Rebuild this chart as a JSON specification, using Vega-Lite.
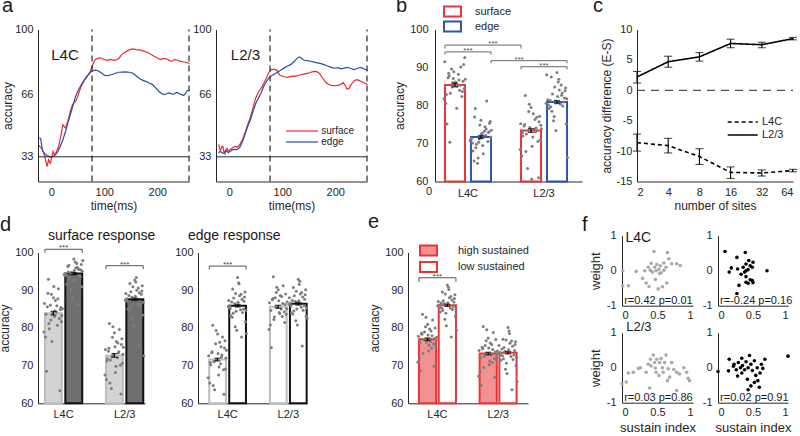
{
"$schema": "https://vega.github.io/schema/vega-lite/v6.json",
"autosize": {"type": "none"},
"padding": {"left": 38, "top": 29.5, "right": 762, "bottom": 406.5},
"background": "white",
"columns": 8,
"align": "each",
"bounds": "flush",
"spacing": {"row": 26.6, "column": 0},
"resolve": {"scale": {"color": "independent", "stroke": "independent", "fill": "independent", "strokeDash": "independent", "xOffset": "independent"}},
"config": {
  "view": {"stroke": null},
  "font": "Liberation Sans",
  "axis": {"grid": false, "ticks": false, "tickCount": 20, "labelOverlap": false, "labelBound": false, "domainColor": "#262626", "domainWidth": 1, "labelColor": "#262626", "titleColor": "#262626", "labelFontSize": 11, "titleFontSize": 12, "titleFontWeight": "normal", "labelPadding": 5, "titlePadding": 3, "labelFont": "Liberation Sans", "titleFont": "Liberation Sans"},
  "legend": {"labelFont": "Liberation Sans", "labelColor": "#262626", "padding": 0},
  "title": {"anchor": "start", "frame": "group", "fontSize": 20, "fontWeight": "normal", "baseline": "alphabetic", "font": "Liberation Sans", "color": "#1a1a1a"},
  "text": {"font": "Liberation Sans", "color": "#1a1a1a"}
},
"datasets": {
"tr": [
{"p":"L4C","c":"surface","t":-23,"v":39.0},{"p":"L4C","c":"surface","t":-20,"v":38.0},{"p":"L4C","c":"surface","t":-17,"v":36.7},{"p":"L4C","c":"surface","t":-14,"v":35.0},{"p":"L4C","c":"surface","t":-12,"v":33.0},{"p":"L4C","c":"surface","t":-10,"v":30.5},{"p":"L4C","c":"surface","t":-7.6,"v":27.9},{"p":"L4C","c":"surface","t":-5,"v":31.5},{"p":"L4C","c":"surface","t":-3,"v":30.2},{"p":"L4C","c":"surface","t":-1.5,"v":29.7},{"p":"L4C","c":"surface","t":1,"v":33.0},{"p":"L4C","c":"surface","t":3.5,"v":35.8},{"p":"L4C","c":"surface","t":6,"v":34.0},{"p":"L4C","c":"surface","t":8,"v":34.6},{"p":"L4C","c":"surface","t":11,"v":36.5},{"p":"L4C","c":"surface","t":14,"v":38.4},{"p":"L4C","c":"surface","t":17,"v":42.5},{"p":"L4C","c":"surface","t":20,"v":47.0},{"p":"L4C","c":"surface","t":22,"v":49.9},{"p":"L4C","c":"surface","t":25,"v":48.8},{"p":"L4C","c":"surface","t":27,"v":48.2},{"p":"L4C","c":"surface","t":30,"v":50.5},{"p":"L4C","c":"surface","t":33,"v":53.5},{"p":"L4C","c":"surface","t":36,"v":57.0},{"p":"L4C","c":"surface","t":40,"v":60.4},{"p":"L4C","c":"surface","t":43,"v":61.5},{"p":"L4C","c":"surface","t":46,"v":62.2},{"p":"L4C","c":"surface","t":49,"v":64.0},{"p":"L4C","c":"surface","t":52,"v":66.6},{"p":"L4C","c":"surface","t":55,"v":69.0},{"p":"L4C","c":"surface","t":58,"v":71.0},{"p":"L4C","c":"surface","t":63,"v":73.5},{"p":"L4C","c":"surface","t":68,"v":75.3},{"p":"L4C","c":"surface","t":72,"v":77.0},{"p":"L4C","c":"surface","t":75,"v":78.9},{"p":"L4C","c":"surface","t":79,"v":82.0},{"p":"L4C","c":"surface","t":83,"v":84.2},{"p":"L4C","c":"surface","t":88,"v":84.8},{"p":"L4C","c":"surface","t":93,"v":85.1},{"p":"L4C","c":"surface","t":99,"v":84.2},{"p":"L4C","c":"surface","t":106,"v":83.8},{"p":"L4C","c":"surface","t":112,"v":84.3},{"p":"L4C","c":"surface","t":118,"v":83.8},{"p":"L4C","c":"surface","t":123,"v":84.0},{"p":"L4C","c":"surface","t":128,"v":84.9},{"p":"L4C","c":"surface","t":132,"v":86.5},{"p":"L4C","c":"surface","t":137,"v":87.7},{"p":"L4C","c":"surface","t":145,"v":89.0},{"p":"L4C","c":"surface","t":153,"v":89.8},{"p":"L4C","c":"surface","t":160,"v":89.4},{"p":"L4C","c":"surface","t":168,"v":89.1},{"p":"L4C","c":"surface","t":175,"v":88.6},{"p":"L4C","c":"surface","t":181,"v":88.0},{"p":"L4C","c":"surface","t":188,"v":87.0},{"p":"L4C","c":"surface","t":194,"v":85.9},{"p":"L4C","c":"surface","t":200,"v":85.0},{"p":"L4C","c":"surface","t":206,"v":84.2},{"p":"L4C","c":"surface","t":212,"v":84.8},{"p":"L4C","c":"surface","t":219,"v":84.5},{"p":"L4C","c":"surface","t":224,"v":83.5},{"p":"L4C","c":"surface","t":228,"v":83.3},{"p":"L4C","c":"surface","t":233,"v":84.2},{"p":"L4C","c":"surface","t":238,"v":83.8},{"p":"L4C","c":"surface","t":244,"v":83.2},{"p":"L4C","c":"surface","t":250,"v":82.9},{"p":"L4C","c":"surface","t":256,"v":82.6},{"p":"L4C","c":"surface","t":261,"v":82.0},
{"p":"L4C","c":"edge","t":-23,"v":42.9},{"p":"L4C","c":"edge","t":-20,"v":42.6},{"p":"L4C","c":"edge","t":-18,"v":39.0},{"p":"L4C","c":"edge","t":-16,"v":35.9},{"p":"L4C","c":"edge","t":-12,"v":34.5},{"p":"L4C","c":"edge","t":-7.6,"v":33.7},{"p":"L4C","c":"edge","t":-4,"v":33.2},{"p":"L4C","c":"edge","t":-1.5,"v":32.8},{"p":"L4C","c":"edge","t":3,"v":33.2},{"p":"L4C","c":"edge","t":8,"v":34.0},{"p":"L4C","c":"edge","t":12,"v":35.5},{"p":"L4C","c":"edge","t":17,"v":38.4},{"p":"L4C","c":"edge","t":22,"v":42.0},{"p":"L4C","c":"edge","t":27,"v":46.3},{"p":"L4C","c":"edge","t":31,"v":50.5},{"p":"L4C","c":"edge","t":36,"v":55.1},{"p":"L4C","c":"edge","t":41,"v":60.0},{"p":"L4C","c":"edge","t":46,"v":64.8},{"p":"L4C","c":"edge","t":50,"v":67.5},{"p":"L4C","c":"edge","t":55,"v":70.1},{"p":"L4C","c":"edge","t":60,"v":72.5},{"p":"L4C","c":"edge","t":65,"v":74.5},{"p":"L4C","c":"edge","t":70,"v":76.3},{"p":"L4C","c":"edge","t":74,"v":77.5},{"p":"L4C","c":"edge","t":79,"v":78.3},{"p":"L4C","c":"edge","t":83,"v":78.6},{"p":"L4C","c":"edge","t":88,"v":78.3},{"p":"L4C","c":"edge","t":93,"v":77.5},{"p":"L4C","c":"edge","t":98,"v":76.5},{"p":"L4C","c":"edge","t":102,"v":75.7},{"p":"L4C","c":"edge","t":108,"v":75.9},{"p":"L4C","c":"edge","t":115,"v":76.3},{"p":"L4C","c":"edge","t":121,"v":77.0},{"p":"L4C","c":"edge","t":128,"v":77.5},{"p":"L4C","c":"edge","t":134,"v":77.6},{"p":"L4C","c":"edge","t":140,"v":77.7},{"p":"L4C","c":"edge","t":147,"v":77.5},{"p":"L4C","c":"edge","t":153,"v":77.1},{"p":"L4C","c":"edge","t":159,"v":75.9},{"p":"L4C","c":"edge","t":165,"v":74.5},{"p":"L4C","c":"edge","t":171,"v":73.5},{"p":"L4C","c":"edge","t":178,"v":72.7},{"p":"L4C","c":"edge","t":185,"v":71.8},{"p":"L4C","c":"edge","t":191,"v":71.0},{"p":"L4C","c":"edge","t":197,"v":69.3},{"p":"L4C","c":"edge","t":203,"v":67.5},{"p":"L4C","c":"edge","t":208,"v":66.3},{"p":"L4C","c":"edge","t":213,"v":65.7},{"p":"L4C","c":"edge","t":218,"v":66.2},{"p":"L4C","c":"edge","t":222,"v":66.6},{"p":"L4C","c":"edge","t":227,"v":66.1},{"p":"L4C","c":"edge","t":232,"v":66.0},{"p":"L4C","c":"edge","t":235,"v":66.7},{"p":"L4C","c":"edge","t":238,"v":66.9},{"p":"L4C","c":"edge","t":241,"v":66.3},{"p":"L4C","c":"edge","t":244,"v":66.0},{"p":"L4C","c":"edge","t":247,"v":65.6},{"p":"L4C","c":"edge","t":250,"v":65.3},{"p":"L4C","c":"edge","t":253,"v":66.2},{"p":"L4C","c":"edge","t":257,"v":67.9},{"p":"L4C","c":"edge","t":261,"v":67.9},
{"p":"L2/3","c":"surface","t":-20,"v":39.5},{"p":"L2/3","c":"surface","t":-18,"v":37.0},{"p":"L2/3","c":"surface","t":-16,"v":36.5},{"p":"L2/3","c":"surface","t":-14,"v":38.5},{"p":"L2/3","c":"surface","t":-12,"v":38.5},{"p":"L2/3","c":"surface","t":-10,"v":35.5},{"p":"L2/3","c":"surface","t":-8,"v":34.5},{"p":"L2/3","c":"surface","t":-6,"v":37.0},{"p":"L2/3","c":"surface","t":-4,"v":37.5},{"p":"L2/3","c":"surface","t":-2,"v":35.8},{"p":"L2/3","c":"surface","t":0,"v":36.5},{"p":"L2/3","c":"surface","t":3,"v":37.0},{"p":"L2/3","c":"surface","t":5,"v":37.5},{"p":"L2/3","c":"surface","t":8,"v":38.0},{"p":"L2/3","c":"surface","t":10,"v":38.5},{"p":"L2/3","c":"surface","t":13,"v":38.3},{"p":"L2/3","c":"surface","t":15,"v":38.0},{"p":"L2/3","c":"surface","t":18,"v":38.8},{"p":"L2/3","c":"surface","t":20,"v":39.5},{"p":"L2/3","c":"surface","t":23,"v":41.0},{"p":"L2/3","c":"surface","t":25,"v":42.0},{"p":"L2/3","c":"surface","t":30,"v":46.0},{"p":"L2/3","c":"surface","t":35,"v":50.0},{"p":"L2/3","c":"surface","t":40,"v":54.0},{"p":"L2/3","c":"surface","t":45,"v":59.0},{"p":"L2/3","c":"surface","t":50,"v":64.0},{"p":"L2/3","c":"surface","t":55,"v":67.0},{"p":"L2/3","c":"surface","t":60,"v":69.0},{"p":"L2/3","c":"surface","t":65,"v":71.5},{"p":"L2/3","c":"surface","t":70,"v":74.5},{"p":"L2/3","c":"surface","t":75,"v":77.5},{"p":"L2/3","c":"surface","t":80,"v":79.0},{"p":"L2/3","c":"surface","t":85,"v":79.0},{"p":"L2/3","c":"surface","t":90,"v":78.5},{"p":"L2/3","c":"surface","t":95,"v":76.0},{"p":"L2/3","c":"surface","t":100,"v":75.5},{"p":"L2/3","c":"surface","t":105,"v":75.0},{"p":"L2/3","c":"surface","t":110,"v":74.8},{"p":"L2/3","c":"surface","t":115,"v":75.2},{"p":"L2/3","c":"surface","t":120,"v":75.5},{"p":"L2/3","c":"surface","t":125,"v":75.3},{"p":"L2/3","c":"surface","t":130,"v":75.8},{"p":"L2/3","c":"surface","t":135,"v":76.2},{"p":"L2/3","c":"surface","t":140,"v":76.5},{"p":"L2/3","c":"surface","t":145,"v":76.8},{"p":"L2/3","c":"surface","t":150,"v":77.0},{"p":"L2/3","c":"surface","t":155,"v":77.6},{"p":"L2/3","c":"surface","t":160,"v":78.0},{"p":"L2/3","c":"surface","t":165,"v":77.8},{"p":"L2/3","c":"surface","t":170,"v":77.0},{"p":"L2/3","c":"surface","t":175,"v":75.0},{"p":"L2/3","c":"surface","t":180,"v":73.0},{"p":"L2/3","c":"surface","t":185,"v":71.5},{"p":"L2/3","c":"surface","t":190,"v":70.8},{"p":"L2/3","c":"surface","t":195,"v":70.5},{"p":"L2/3","c":"surface","t":200,"v":70.4},{"p":"L2/3","c":"surface","t":205,"v":70.6},{"p":"L2/3","c":"surface","t":210,"v":71.0},{"p":"L2/3","c":"surface","t":215,"v":72.0},{"p":"L2/3","c":"surface","t":219,"v":70.5},{"p":"L2/3","c":"surface","t":222,"v":68.7},{"p":"L2/3","c":"surface","t":226,"v":69.0},{"p":"L2/3","c":"surface","t":230,"v":71.0},{"p":"L2/3","c":"surface","t":235,"v":72.8},{"p":"L2/3","c":"surface","t":240,"v":73.6},{"p":"L2/3","c":"surface","t":245,"v":73.2},{"p":"L2/3","c":"surface","t":250,"v":72.5},{"p":"L2/3","c":"surface","t":255,"v":71.8},{"p":"L2/3","c":"surface","t":261,"v":71.0},
{"p":"L2/3","c":"edge","t":-20,"v":34.9},{"p":"L2/3","c":"edge","t":-18,"v":35.8},{"p":"L2/3","c":"edge","t":-15,"v":35.5},{"p":"L2/3","c":"edge","t":-12,"v":34.8},{"p":"L2/3","c":"edge","t":-10,"v":35.0},{"p":"L2/3","c":"edge","t":-7,"v":36.2},{"p":"L2/3","c":"edge","t":-5,"v":36.0},{"p":"L2/3","c":"edge","t":-2,"v":35.2},{"p":"L2/3","c":"edge","t":0,"v":35.5},{"p":"L2/3","c":"edge","t":3,"v":36.0},{"p":"L2/3","c":"edge","t":5,"v":36.5},{"p":"L2/3","c":"edge","t":8,"v":36.8},{"p":"L2/3","c":"edge","t":10,"v":37.0},{"p":"L2/3","c":"edge","t":13,"v":36.7},{"p":"L2/3","c":"edge","t":15,"v":37.0},{"p":"L2/3","c":"edge","t":18,"v":37.5},{"p":"L2/3","c":"edge","t":20,"v":38.0},{"p":"L2/3","c":"edge","t":25,"v":41.0},{"p":"L2/3","c":"edge","t":30,"v":45.0},{"p":"L2/3","c":"edge","t":35,"v":49.0},{"p":"L2/3","c":"edge","t":40,"v":52.5},{"p":"L2/3","c":"edge","t":45,"v":57.0},{"p":"L2/3","c":"edge","t":50,"v":61.0},{"p":"L2/3","c":"edge","t":55,"v":64.0},{"p":"L2/3","c":"edge","t":60,"v":66.6},{"p":"L2/3","c":"edge","t":65,"v":70.0},{"p":"L2/3","c":"edge","t":70,"v":72.5},{"p":"L2/3","c":"edge","t":75,"v":74.5},{"p":"L2/3","c":"edge","t":80,"v":75.7},{"p":"L2/3","c":"edge","t":85,"v":76.5},{"p":"L2/3","c":"edge","t":91,"v":77.5},{"p":"L2/3","c":"edge","t":97,"v":78.5},{"p":"L2/3","c":"edge","t":104,"v":79.8},{"p":"L2/3","c":"edge","t":110,"v":80.8},{"p":"L2/3","c":"edge","t":116,"v":81.5},{"p":"L2/3","c":"edge","t":122,"v":83.0},{"p":"L2/3","c":"edge","t":128,"v":84.8},{"p":"L2/3","c":"edge","t":132,"v":85.6},{"p":"L2/3","c":"edge","t":136,"v":85.0},{"p":"L2/3","c":"edge","t":141,"v":83.8},{"p":"L2/3","c":"edge","t":147,"v":83.6},{"p":"L2/3","c":"edge","t":154,"v":83.3},{"p":"L2/3","c":"edge","t":160,"v":82.8},{"p":"L2/3","c":"edge","t":167,"v":82.4},{"p":"L2/3","c":"edge","t":173,"v":82.0},{"p":"L2/3","c":"edge","t":179,"v":81.5},{"p":"L2/3","c":"edge","t":185,"v":80.8},{"p":"L2/3","c":"edge","t":190,"v":80.3},{"p":"L2/3","c":"edge","t":195,"v":79.8},{"p":"L2/3","c":"edge","t":200,"v":79.6},{"p":"L2/3","c":"edge","t":205,"v":79.9},{"p":"L2/3","c":"edge","t":211,"v":79.3},{"p":"L2/3","c":"edge","t":217,"v":79.7},{"p":"L2/3","c":"edge","t":223,"v":80.1},{"p":"L2/3","c":"edge","t":229,"v":79.5},{"p":"L2/3","c":"edge","t":236,"v":78.9},{"p":"L2/3","c":"edge","t":242,"v":79.6},{"p":"L2/3","c":"edge","t":249,"v":80.0},{"p":"L2/3","c":"edge","t":255,"v":79.2},{"p":"L2/3","c":"edge","t":261,"v":78.4}
],
"bars": [
{"p":"b","g":"L4C","c":"surface","m":85.4,"lo":84.9,"hi":85.9},
{"p":"b","g":"L4C","c":"edge","m":71.7,"lo":71.3,"hi":72.1},
{"p":"b","g":"L2/3","c":"surface","m":73.4,"lo":72.9,"hi":73.9},
{"p":"b","g":"L2/3","c":"edge","m":80.9,"lo":80.5,"hi":81.3},
{"p":"dL","g":"L4C","c":"A","m":83.9,"lo":83.4,"hi":84.4},
{"p":"dL","g":"L4C","c":"B","m":94.4,"lo":94.1,"hi":94.7},
{"p":"dL","g":"L2/3","c":"A","m":72.7,"lo":72.2,"hi":73.2},
{"p":"dL","g":"L2/3","c":"B","m":87.6,"lo":87.3,"hi":87.9},
{"p":"dR","g":"L4C","c":"A","m":71.6,"lo":71.25,"hi":71.95},
{"p":"dR","g":"L4C","c":"B","m":85.9,"lo":85.55,"hi":86.25},
{"p":"dR","g":"L2/3","c":"A","m":85.6,"lo":85.2,"hi":86.0},
{"p":"dR","g":"L2/3","c":"B","m":86.4,"lo":86.05,"hi":86.75},
{"p":"e","g":"L4C","c":"high sustained","m":77.0,"lo":76.65,"hi":77.35},
{"p":"e","g":"L4C","c":"low sustained","m":86.0,"lo":85.7,"hi":86.3},
{"p":"e","g":"L2/3","c":"high sustained","m":73.2,"lo":72.85,"hi":73.55},
{"p":"e","g":"L2/3","c":"low sustained","m":73.4,"lo":73.1,"hi":73.7}
],
"dots": [
{"p":"b","g":"L4C","c":"surface","v":91.5,"j":-0.9},{"p":"b","g":"L4C","c":"surface","v":88.2,"j":0.3},{"p":"b","g":"L4C","c":"surface","v":86.0,"j":-0.2},{"p":"b","g":"L4C","c":"surface","v":84.5,"j":0.8},{"p":"b","g":"L4C","c":"surface","v":87.3,"j":-0.6},{"p":"b","g":"L4C","c":"surface","v":85.8,"j":0.1},{"p":"b","g":"L4C","c":"surface","v":90.1,"j":0.5},{"p":"b","g":"L4C","c":"surface","v":83.2,"j":-0.4},{"p":"b","g":"L4C","c":"surface","v":86.9,"j":0.9},{"p":"b","g":"L4C","c":"surface","v":80.5,"j":-0.8},{"p":"b","g":"L4C","c":"surface","v":85.1,"j":0.2},{"p":"b","g":"L4C","c":"surface","v":88.9,"j":-0.1},{"p":"b","g":"L4C","c":"surface","v":82.4,"j":0.6},{"p":"b","g":"L4C","c":"surface","v":87.8,"j":-0.5},{"p":"b","g":"L4C","c":"surface","v":84.0,"j":0.4},{"p":"b","g":"L4C","c":"surface","v":89.6,"j":-0.3},{"p":"b","g":"L4C","c":"surface","v":86.4,"j":0.7},{"p":"b","g":"L4C","c":"surface","v":75.1,"j":-0.7},{"p":"b","g":"L4C","c":"surface","v":85.5,"j":0.0},{"p":"b","g":"L4C","c":"surface","v":92.6,"j":0.85},{"p":"b","g":"L4C","c":"surface","v":81.8,"j":-0.95},{"p":"b","g":"L4C","c":"surface","v":86.7,"j":0.35},{"p":"b","g":"L4C","c":"surface","v":84.9,"j":-0.25},{"p":"b","g":"L4C","c":"surface","v":83.7,"j":0.65},{"p":"b","g":"L4C","c":"surface","v":88.5,"j":-0.55},{"p":"b","g":"L4C","c":"surface","v":79.3,"j":0.15},{"p":"b","g":"L4C","c":"surface","v":87.1,"j":-0.15},{"p":"b","g":"L4C","c":"surface","v":85.3,"j":0.45},{"p":"b","g":"L4C","c":"surface","v":70.3,"j":-0.45},{"p":"b","g":"L4C","c":"surface","v":90.8,"j":0.75},{"p":"b","g":"L4C","c":"surface","v":82.9,"j":-0.75},{"p":"b","g":"L4C","c":"surface","v":86.2,"j":0.05},
{"p":"b","g":"L4C","c":"edge","v":72.5,"j":0.05},{"p":"b","g":"L4C","c":"edge","v":70.1,"j":-0.75},{"p":"b","g":"L4C","c":"edge","v":75.3,"j":0.75},{"p":"b","g":"L4C","c":"edge","v":68.9,"j":-0.45},{"p":"b","g":"L4C","c":"edge","v":73.8,"j":0.45},{"p":"b","g":"L4C","c":"edge","v":71.2,"j":-0.15},{"p":"b","g":"L4C","c":"edge","v":69.5,"j":0.15},{"p":"b","g":"L4C","c":"edge","v":77.0,"j":-0.55},{"p":"b","g":"L4C","c":"edge","v":72.9,"j":0.65},{"p":"b","g":"L4C","c":"edge","v":66.2,"j":-0.25},{"p":"b","g":"L4C","c":"edge","v":74.4,"j":0.35},{"p":"b","g":"L4C","c":"edge","v":70.8,"j":-0.95},{"p":"b","g":"L4C","c":"edge","v":71.7,"j":0.85},{"p":"b","g":"L4C","c":"edge","v":76.1,"j":0.0},{"p":"b","g":"L4C","c":"edge","v":68.0,"j":-0.7},{"p":"b","g":"L4C","c":"edge","v":73.1,"j":0.7},{"p":"b","g":"L4C","c":"edge","v":64.8,"j":-0.3},{"p":"b","g":"L4C","c":"edge","v":72.2,"j":0.4},{"p":"b","g":"L4C","c":"edge","v":79.2,"j":-0.5},{"p":"b","g":"L4C","c":"edge","v":70.5,"j":0.6},{"p":"b","g":"L4C","c":"edge","v":74.9,"j":-0.1},{"p":"b","g":"L4C","c":"edge","v":67.3,"j":0.2},{"p":"b","g":"L4C","c":"edge","v":71.4,"j":-0.8},{"p":"b","g":"L4C","c":"edge","v":73.5,"j":0.9},{"p":"b","g":"L4C","c":"edge","v":69.8,"j":-0.4},{"p":"b","g":"L4C","c":"edge","v":81.2,"j":0.5},{"p":"b","g":"L4C","c":"edge","v":72.7,"j":0.1},{"p":"b","g":"L4C","c":"edge","v":65.4,"j":-0.6},{"p":"b","g":"L4C","c":"edge","v":75.8,"j":0.8},{"p":"b","g":"L4C","c":"edge","v":70.3,"j":-0.2},{"p":"b","g":"L4C","c":"edge","v":73.2,"j":0.3},{"p":"b","g":"L4C","c":"edge","v":71.0,"j":-0.9},
{"p":"b","g":"L2/3","c":"surface","v":75.2,"j":-0.9},{"p":"b","g":"L2/3","c":"surface","v":73.8,"j":0.3},{"p":"b","g":"L2/3","c":"surface","v":78.4,"j":-0.2},{"p":"b","g":"L2/3","c":"surface","v":71.0,"j":0.8},{"p":"b","g":"L2/3","c":"surface","v":74.6,"j":-0.6},{"p":"b","g":"L2/3","c":"surface","v":69.3,"j":0.1},{"p":"b","g":"L2/3","c":"surface","v":76.9,"j":0.5},{"p":"b","g":"L2/3","c":"surface","v":72.5,"j":-0.4},{"p":"b","g":"L2/3","c":"surface","v":73.9,"j":0.9},{"p":"b","g":"L2/3","c":"surface","v":66.7,"j":-0.8},{"p":"b","g":"L2/3","c":"surface","v":77.8,"j":0.2},{"p":"b","g":"L2/3","c":"surface","v":74.2,"j":-0.1},{"p":"b","g":"L2/3","c":"surface","v":70.5,"j":0.6},{"p":"b","g":"L2/3","c":"surface","v":82.6,"j":-0.5},{"p":"b","g":"L2/3","c":"surface","v":73.1,"j":0.4},{"p":"b","g":"L2/3","c":"surface","v":63.4,"j":-0.3},{"p":"b","g":"L2/3","c":"surface","v":75.7,"j":0.7},{"p":"b","g":"L2/3","c":"surface","v":72.0,"j":-0.7},{"p":"b","g":"L2/3","c":"surface","v":79.5,"j":0.0},{"p":"b","g":"L2/3","c":"surface","v":74.8,"j":0.85},{"p":"b","g":"L2/3","c":"surface","v":68.4,"j":-0.95},{"p":"b","g":"L2/3","c":"surface","v":76.3,"j":0.35},{"p":"b","g":"L2/3","c":"surface","v":73.4,"j":-0.25},{"p":"b","g":"L2/3","c":"surface","v":61.0,"j":0.65},{"p":"b","g":"L2/3","c":"surface","v":75.0,"j":-0.55},{"p":"b","g":"L2/3","c":"surface","v":71.7,"j":0.15},{"p":"b","g":"L2/3","c":"surface","v":80.3,"j":-0.15},{"p":"b","g":"L2/3","c":"surface","v":74.1,"j":0.45},{"p":"b","g":"L2/3","c":"surface","v":67.9,"j":-0.45},{"p":"b","g":"L2/3","c":"surface","v":77.2,"j":0.75},{"p":"b","g":"L2/3","c":"surface","v":72.8,"j":-0.75},{"p":"b","g":"L2/3","c":"surface","v":60.6,"j":0.05},
{"p":"b","g":"L2/3","c":"edge","v":82.4,"j":0.05},{"p":"b","g":"L2/3","c":"edge","v":80.1,"j":-0.75},{"p":"b","g":"L2/3","c":"edge","v":84.6,"j":0.75},{"p":"b","g":"L2/3","c":"edge","v":78.5,"j":-0.45},{"p":"b","g":"L2/3","c":"edge","v":83.3,"j":0.45},{"p":"b","g":"L2/3","c":"edge","v":81.2,"j":-0.15},{"p":"b","g":"L2/3","c":"edge","v":86.9,"j":0.15},{"p":"b","g":"L2/3","c":"edge","v":79.7,"j":-0.55},{"p":"b","g":"L2/3","c":"edge","v":82.0,"j":0.65},{"p":"b","g":"L2/3","c":"edge","v":77.1,"j":-0.25},{"p":"b","g":"L2/3","c":"edge","v":85.4,"j":0.35},{"p":"b","g":"L2/3","c":"edge","v":80.6,"j":-0.95},{"p":"b","g":"L2/3","c":"edge","v":81.8,"j":0.85},{"p":"b","g":"L2/3","c":"edge","v":88.7,"j":0.0},{"p":"b","g":"L2/3","c":"edge","v":79.2,"j":-0.7},{"p":"b","g":"L2/3","c":"edge","v":83.9,"j":0.7},{"p":"b","g":"L2/3","c":"edge","v":76.0,"j":-0.3},{"p":"b","g":"L2/3","c":"edge","v":82.7,"j":0.4},{"p":"b","g":"L2/3","c":"edge","v":87.5,"j":-0.5},{"p":"b","g":"L2/3","c":"edge","v":80.9,"j":0.6},{"p":"b","g":"L2/3","c":"edge","v":73.4,"j":-0.1},{"p":"b","g":"L2/3","c":"edge","v":84.1,"j":0.2},{"p":"b","g":"L2/3","c":"edge","v":81.5,"j":-0.8},{"p":"b","g":"L2/3","c":"edge","v":66.3,"j":0.9},{"p":"b","g":"L2/3","c":"edge","v":83.0,"j":-0.4},{"p":"b","g":"L2/3","c":"edge","v":79.9,"j":0.5},{"p":"b","g":"L2/3","c":"edge","v":86.2,"j":0.1},{"p":"b","g":"L2/3","c":"edge","v":81.3,"j":-0.6},{"p":"b","g":"L2/3","c":"edge","v":75.2,"j":0.8},{"p":"b","g":"L2/3","c":"edge","v":84.9,"j":-0.2},{"p":"b","g":"L2/3","c":"edge","v":80.4,"j":0.3},{"p":"b","g":"L2/3","c":"edge","v":88.1,"j":-0.9},
{"p":"dL","g":"L4C","c":"A","v":86.5,"j":-0.9},{"p":"dL","g":"L4C","c":"A","v":84.2,"j":0.3},{"p":"dL","g":"L4C","c":"A","v":88.9,"j":-0.2},{"p":"dL","g":"L4C","c":"A","v":81.7,"j":0.8},{"p":"dL","g":"L4C","c":"A","v":85.6,"j":-0.6},{"p":"dL","g":"L4C","c":"A","v":83.0,"j":0.1},{"p":"dL","g":"L4C","c":"A","v":90.4,"j":0.5},{"p":"dL","g":"L4C","c":"A","v":79.8,"j":-0.4},{"p":"dL","g":"L4C","c":"A","v":85.1,"j":0.9},{"p":"dL","g":"L4C","c":"A","v":77.6,"j":-0.8},{"p":"dL","g":"L4C","c":"A","v":87.3,"j":0.2},{"p":"dL","g":"L4C","c":"A","v":83.8,"j":-0.1},{"p":"dL","g":"L4C","c":"A","v":82.5,"j":0.6},{"p":"dL","g":"L4C","c":"A","v":92.9,"j":-0.5},{"p":"dL","g":"L4C","c":"A","v":80.7,"j":0.4},{"p":"dL","g":"L4C","c":"A","v":86.1,"j":-0.3},{"p":"dL","g":"L4C","c":"A","v":84.8,"j":0.7},{"p":"dL","g":"L4C","c":"A","v":68.5,"j":-0.7},{"p":"dL","g":"L4C","c":"A","v":88.0,"j":0.0},{"p":"dL","g":"L4C","c":"A","v":83.3,"j":0.85},{"p":"dL","g":"L4C","c":"A","v":78.9,"j":-0.95},{"p":"dL","g":"L4C","c":"A","v":85.9,"j":0.35},{"p":"dL","g":"L4C","c":"A","v":82.1,"j":-0.25},{"p":"dL","g":"L4C","c":"A","v":63.3,"j":0.65},{"p":"dL","g":"L4C","c":"A","v":89.2,"j":-0.55},{"p":"dL","g":"L4C","c":"A","v":84.5,"j":0.15},{"p":"dL","g":"L4C","c":"A","v":76.4,"j":-0.15},{"p":"dL","g":"L4C","c":"A","v":87.7,"j":0.45},{"p":"dL","g":"L4C","c":"A","v":81.2,"j":-0.45},{"p":"dL","g":"L4C","c":"A","v":85.4,"j":0.75},{"p":"dL","g":"L4C","c":"A","v":83.6,"j":-0.75},{"p":"dL","g":"L4C","c":"A","v":91.0,"j":0.05},
{"p":"dL","g":"L4C","c":"B","v":95.2,"j":0.05},{"p":"dL","g":"L4C","c":"B","v":94.0,"j":-0.75},{"p":"dL","g":"L4C","c":"B","v":96.8,"j":0.75},{"p":"dL","g":"L4C","c":"B","v":93.1,"j":-0.45},{"p":"dL","g":"L4C","c":"B","v":95.7,"j":0.45},{"p":"dL","g":"L4C","c":"B","v":92.4,"j":-0.15},{"p":"dL","g":"L4C","c":"B","v":97.5,"j":0.15},{"p":"dL","g":"L4C","c":"B","v":94.8,"j":-0.55},{"p":"dL","g":"L4C","c":"B","v":93.6,"j":0.65},{"p":"dL","g":"L4C","c":"B","v":90.2,"j":-0.25},{"p":"dL","g":"L4C","c":"B","v":96.1,"j":0.35},{"p":"dL","g":"L4C","c":"B","v":94.3,"j":-0.95},{"p":"dL","g":"L4C","c":"B","v":95.0,"j":0.85},{"p":"dL","g":"L4C","c":"B","v":98.3,"j":0.0},{"p":"dL","g":"L4C","c":"B","v":91.6,"j":-0.7},{"p":"dL","g":"L4C","c":"B","v":95.4,"j":0.7},{"p":"dL","g":"L4C","c":"B","v":94.6,"j":-0.3},{"p":"dL","g":"L4C","c":"B","v":86.2,"j":0.4},{"p":"dL","g":"L4C","c":"B","v":96.6,"j":-0.5},{"p":"dL","g":"L4C","c":"B","v":93.9,"j":0.6},{"p":"dL","g":"L4C","c":"B","v":88.0,"j":-0.1},{"p":"dL","g":"L4C","c":"B","v":95.9,"j":0.2},{"p":"dL","g":"L4C","c":"B","v":94.2,"j":-0.8},{"p":"dL","g":"L4C","c":"B","v":97.9,"j":0.9},{"p":"dL","g":"L4C","c":"B","v":93.3,"j":-0.4},{"p":"dL","g":"L4C","c":"B","v":95.5,"j":0.5},{"p":"dL","g":"L4C","c":"B","v":92.8,"j":0.1},{"p":"dL","g":"L4C","c":"B","v":96.3,"j":-0.6},{"p":"dL","g":"L4C","c":"B","v":90.9,"j":0.8},{"p":"dL","g":"L4C","c":"B","v":94.7,"j":-0.2},{"p":"dL","g":"L4C","c":"B","v":97.1,"j":0.3},{"p":"dL","g":"L4C","c":"B","v":93.8,"j":-0.9},
{"p":"dL","g":"L2/3","c":"A","v":74.3,"j":-0.9},{"p":"dL","g":"L2/3","c":"A","v":72.1,"j":0.3},{"p":"dL","g":"L2/3","c":"A","v":77.5,"j":-0.2},{"p":"dL","g":"L2/3","c":"A","v":70.6,"j":0.8},{"p":"dL","g":"L2/3","c":"A","v":73.8,"j":-0.6},{"p":"dL","g":"L2/3","c":"A","v":68.2,"j":0.1},{"p":"dL","g":"L2/3","c":"A","v":79.6,"j":0.5},{"p":"dL","g":"L2/3","c":"A","v":71.5,"j":-0.4},{"p":"dL","g":"L2/3","c":"A","v":74.9,"j":0.9},{"p":"dL","g":"L2/3","c":"A","v":66.3,"j":-0.8},{"p":"dL","g":"L2/3","c":"A","v":76.4,"j":0.2},{"p":"dL","g":"L2/3","c":"A","v":72.9,"j":-0.1},{"p":"dL","g":"L2/3","c":"A","v":70.1,"j":0.6},{"p":"dL","g":"L2/3","c":"A","v":81.2,"j":-0.5},{"p":"dL","g":"L2/3","c":"A","v":73.4,"j":0.4},{"p":"dL","g":"L2/3","c":"A","v":63.9,"j":-0.3},{"p":"dL","g":"L2/3","c":"A","v":75.6,"j":0.7},{"p":"dL","g":"L2/3","c":"A","v":71.8,"j":-0.7},{"p":"dL","g":"L2/3","c":"A","v":78.7,"j":0.0},{"p":"dL","g":"L2/3","c":"A","v":73.0,"j":0.85},{"p":"dL","g":"L2/3","c":"A","v":67.5,"j":-0.95},{"p":"dL","g":"L2/3","c":"A","v":76.0,"j":0.35},{"p":"dL","g":"L2/3","c":"A","v":72.4,"j":-0.25},{"p":"dL","g":"L2/3","c":"A","v":62.5,"j":0.65},{"p":"dL","g":"L2/3","c":"A","v":74.6,"j":-0.55},{"p":"dL","g":"L2/3","c":"A","v":69.8,"j":0.15},{"p":"dL","g":"L2/3","c":"A","v":80.3,"j":-0.15},{"p":"dL","g":"L2/3","c":"A","v":73.7,"j":0.45},{"p":"dL","g":"L2/3","c":"A","v":65.4,"j":-0.45},{"p":"dL","g":"L2/3","c":"A","v":77.1,"j":0.75},{"p":"dL","g":"L2/3","c":"A","v":71.2,"j":-0.75},{"p":"dL","g":"L2/3","c":"A","v":75.0,"j":0.05},
{"p":"dL","g":"L2/3","c":"B","v":88.4,"j":0.05},{"p":"dL","g":"L2/3","c":"B","v":87.0,"j":-0.75},{"p":"dL","g":"L2/3","c":"B","v":91.2,"j":0.75},{"p":"dL","g":"L2/3","c":"B","v":85.6,"j":-0.45},{"p":"dL","g":"L2/3","c":"B","v":89.3,"j":0.45},{"p":"dL","g":"L2/3","c":"B","v":86.2,"j":-0.15},{"p":"dL","g":"L2/3","c":"B","v":93.4,"j":0.15},{"p":"dL","g":"L2/3","c":"B","v":84.7,"j":-0.55},{"p":"dL","g":"L2/3","c":"B","v":88.9,"j":0.65},{"p":"dL","g":"L2/3","c":"B","v":82.5,"j":-0.25},{"p":"dL","g":"L2/3","c":"B","v":90.6,"j":0.35},{"p":"dL","g":"L2/3","c":"B","v":87.4,"j":-0.95},{"p":"dL","g":"L2/3","c":"B","v":86.8,"j":0.85},{"p":"dL","g":"L2/3","c":"B","v":92.7,"j":0.0},{"p":"dL","g":"L2/3","c":"B","v":85.0,"j":-0.7},{"p":"dL","g":"L2/3","c":"B","v":89.8,"j":0.7},{"p":"dL","g":"L2/3","c":"B","v":88.1,"j":-0.3},{"p":"dL","g":"L2/3","c":"B","v":75.4,"j":0.4},{"p":"dL","g":"L2/3","c":"B","v":91.8,"j":-0.5},{"p":"dL","g":"L2/3","c":"B","v":86.5,"j":0.6},{"p":"dL","g":"L2/3","c":"B","v":80.6,"j":-0.1},{"p":"dL","g":"L2/3","c":"B","v":90.0,"j":0.2},{"p":"dL","g":"L2/3","c":"B","v":87.7,"j":-0.8},{"p":"dL","g":"L2/3","c":"B","v":72.6,"j":0.9},{"p":"dL","g":"L2/3","c":"B","v":89.6,"j":-0.4},{"p":"dL","g":"L2/3","c":"B","v":85.9,"j":0.5},{"p":"dL","g":"L2/3","c":"B","v":92.2,"j":0.1},{"p":"dL","g":"L2/3","c":"B","v":88.6,"j":-0.6},{"p":"dL","g":"L2/3","c":"B","v":83.4,"j":0.8},{"p":"dL","g":"L2/3","c":"B","v":90.9,"j":-0.2},{"p":"dL","g":"L2/3","c":"B","v":86.3,"j":0.3},{"p":"dL","g":"L2/3","c":"B","v":89.1,"j":-0.9},
{"p":"dR","g":"L4C","c":"A","v":72.6,"j":-0.9},{"p":"dR","g":"L4C","c":"A","v":70.5,"j":0.3},{"p":"dR","g":"L4C","c":"A","v":75.8,"j":-0.2},{"p":"dR","g":"L4C","c":"A","v":69.1,"j":0.8},{"p":"dR","g":"L4C","c":"A","v":73.4,"j":-0.6},{"p":"dR","g":"L4C","c":"A","v":67.5,"j":0.1},{"p":"dR","g":"L4C","c":"A","v":77.6,"j":0.5},{"p":"dR","g":"L4C","c":"A","v":71.0,"j":-0.4},{"p":"dR","g":"L4C","c":"A","v":74.1,"j":0.9},{"p":"dR","g":"L4C","c":"A","v":65.4,"j":-0.8},{"p":"dR","g":"L4C","c":"A","v":76.2,"j":0.2},{"p":"dR","g":"L4C","c":"A","v":71.7,"j":-0.1},{"p":"dR","g":"L4C","c":"A","v":68.9,"j":0.6},{"p":"dR","g":"L4C","c":"A","v":80.7,"j":-0.5},{"p":"dR","g":"L4C","c":"A","v":72.3,"j":0.4},{"p":"dR","g":"L4C","c":"A","v":63.6,"j":-0.3},{"p":"dR","g":"L4C","c":"A","v":74.7,"j":0.7},{"p":"dR","g":"L4C","c":"A","v":70.2,"j":-0.7},{"p":"dR","g":"L4C","c":"A","v":78.4,"j":0.0},{"p":"dR","g":"L4C","c":"A","v":72.0,"j":0.85},{"p":"dR","g":"L4C","c":"A","v":66.8,"j":-0.95},{"p":"dR","g":"L4C","c":"A","v":75.0,"j":0.35},{"p":"dR","g":"L4C","c":"A","v":71.3,"j":-0.25},{"p":"dR","g":"L4C","c":"A","v":62.4,"j":0.65},{"p":"dR","g":"L4C","c":"A","v":73.7,"j":-0.55},{"p":"dR","g":"L4C","c":"A","v":69.6,"j":0.15},{"p":"dR","g":"L4C","c":"A","v":79.3,"j":-0.15},{"p":"dR","g":"L4C","c":"A","v":72.8,"j":0.45},{"p":"dR","g":"L4C","c":"A","v":64.7,"j":-0.45},{"p":"dR","g":"L4C","c":"A","v":76.6,"j":0.75},{"p":"dR","g":"L4C","c":"A","v":70.8,"j":-0.75},{"p":"dR","g":"L4C","c":"A","v":73.2,"j":0.05},
{"p":"dR","g":"L4C","c":"B","v":86.8,"j":0.05},{"p":"dR","g":"L4C","c":"B","v":85.2,"j":-0.75},{"p":"dR","g":"L4C","c":"B","v":89.5,"j":0.75},{"p":"dR","g":"L4C","c":"B","v":83.9,"j":-0.45},{"p":"dR","g":"L4C","c":"B","v":87.6,"j":0.45},{"p":"dR","g":"L4C","c":"B","v":84.4,"j":-0.15},{"p":"dR","g":"L4C","c":"B","v":91.7,"j":0.15},{"p":"dR","g":"L4C","c":"B","v":82.8,"j":-0.55},{"p":"dR","g":"L4C","c":"B","v":87.1,"j":0.65},{"p":"dR","g":"L4C","c":"B","v":80.3,"j":-0.25},{"p":"dR","g":"L4C","c":"B","v":88.9,"j":0.35},{"p":"dR","g":"L4C","c":"B","v":85.7,"j":-0.95},{"p":"dR","g":"L4C","c":"B","v":84.6,"j":0.85},{"p":"dR","g":"L4C","c":"B","v":93.4,"j":0.0},{"p":"dR","g":"L4C","c":"B","v":83.2,"j":-0.7},{"p":"dR","g":"L4C","c":"B","v":88.2,"j":0.7},{"p":"dR","g":"L4C","c":"B","v":86.4,"j":-0.3},{"p":"dR","g":"L4C","c":"B","v":77.6,"j":0.4},{"p":"dR","g":"L4C","c":"B","v":90.3,"j":-0.5},{"p":"dR","g":"L4C","c":"B","v":85.0,"j":0.6},{"p":"dR","g":"L4C","c":"B","v":79.4,"j":-0.1},{"p":"dR","g":"L4C","c":"B","v":88.5,"j":0.2},{"p":"dR","g":"L4C","c":"B","v":85.9,"j":-0.8},{"p":"dR","g":"L4C","c":"B","v":78.5,"j":0.9},{"p":"dR","g":"L4C","c":"B","v":87.9,"j":-0.4},{"p":"dR","g":"L4C","c":"B","v":84.1,"j":0.5},{"p":"dR","g":"L4C","c":"B","v":92.0,"j":0.1},{"p":"dR","g":"L4C","c":"B","v":86.9,"j":-0.6},{"p":"dR","g":"L4C","c":"B","v":81.6,"j":0.8},{"p":"dR","g":"L4C","c":"B","v":89.1,"j":-0.2},{"p":"dR","g":"L4C","c":"B","v":84.8,"j":0.3},{"p":"dR","g":"L4C","c":"B","v":87.3,"j":-0.9},
{"p":"dR","g":"L2/3","c":"A","v":86.7,"j":-0.9},{"p":"dR","g":"L2/3","c":"A","v":85.0,"j":0.3},{"p":"dR","g":"L2/3","c":"A","v":89.4,"j":-0.2},{"p":"dR","g":"L2/3","c":"A","v":83.6,"j":0.8},{"p":"dR","g":"L2/3","c":"A","v":87.5,"j":-0.6},{"p":"dR","g":"L2/3","c":"A","v":84.1,"j":0.1},{"p":"dR","g":"L2/3","c":"A","v":91.2,"j":0.5},{"p":"dR","g":"L2/3","c":"A","v":82.9,"j":-0.4},{"p":"dR","g":"L2/3","c":"A","v":86.9,"j":0.9},{"p":"dR","g":"L2/3","c":"A","v":80.8,"j":-0.8},{"p":"dR","g":"L2/3","c":"A","v":88.6,"j":0.2},{"p":"dR","g":"L2/3","c":"A","v":85.4,"j":-0.1},{"p":"dR","g":"L2/3","c":"A","v":84.3,"j":0.6},{"p":"dR","g":"L2/3","c":"A","v":93.6,"j":-0.5},{"p":"dR","g":"L2/3","c":"A","v":83.0,"j":0.4},{"p":"dR","g":"L2/3","c":"A","v":88.0,"j":-0.3},{"p":"dR","g":"L2/3","c":"A","v":86.2,"j":0.7},{"p":"dR","g":"L2/3","c":"A","v":74.8,"j":-0.7},{"p":"dR","g":"L2/3","c":"A","v":90.1,"j":0.0},{"p":"dR","g":"L2/3","c":"A","v":85.1,"j":0.85},{"p":"dR","g":"L2/3","c":"A","v":79.6,"j":-0.95},{"p":"dR","g":"L2/3","c":"A","v":88.3,"j":0.35},{"p":"dR","g":"L2/3","c":"A","v":85.7,"j":-0.25},{"p":"dR","g":"L2/3","c":"A","v":81.4,"j":0.65},{"p":"dR","g":"L2/3","c":"A","v":87.8,"j":-0.55},{"p":"dR","g":"L2/3","c":"A","v":83.8,"j":0.15},{"p":"dR","g":"L2/3","c":"A","v":90.8,"j":-0.15},{"p":"dR","g":"L2/3","c":"A","v":86.5,"j":0.45},{"p":"dR","g":"L2/3","c":"A","v":82.2,"j":-0.45},{"p":"dR","g":"L2/3","c":"A","v":89.0,"j":0.75},{"p":"dR","g":"L2/3","c":"A","v":84.6,"j":-0.75},{"p":"dR","g":"L2/3","c":"A","v":87.2,"j":0.05},
{"p":"dR","g":"L2/3","c":"B","v":87.2,"j":0.05},{"p":"dR","g":"L2/3","c":"B","v":85.8,"j":-0.75},{"p":"dR","g":"L2/3","c":"B","v":90.1,"j":0.75},{"p":"dR","g":"L2/3","c":"B","v":84.5,"j":-0.45},{"p":"dR","g":"L2/3","c":"B","v":88.2,"j":0.45},{"p":"dR","g":"L2/3","c":"B","v":85.0,"j":-0.15},{"p":"dR","g":"L2/3","c":"B","v":92.4,"j":0.15},{"p":"dR","g":"L2/3","c":"B","v":83.7,"j":-0.55},{"p":"dR","g":"L2/3","c":"B","v":87.6,"j":0.65},{"p":"dR","g":"L2/3","c":"B","v":81.9,"j":-0.25},{"p":"dR","g":"L2/3","c":"B","v":89.4,"j":0.35},{"p":"dR","g":"L2/3","c":"B","v":86.2,"j":-0.95},{"p":"dR","g":"L2/3","c":"B","v":85.3,"j":0.85},{"p":"dR","g":"L2/3","c":"B","v":92.9,"j":0.0},{"p":"dR","g":"L2/3","c":"B","v":84.0,"j":-0.7},{"p":"dR","g":"L2/3","c":"B","v":88.8,"j":0.7},{"p":"dR","g":"L2/3","c":"B","v":87.0,"j":-0.3},{"p":"dR","g":"L2/3","c":"B","v":75.2,"j":0.4},{"p":"dR","g":"L2/3","c":"B","v":90.7,"j":-0.5},{"p":"dR","g":"L2/3","c":"B","v":85.9,"j":0.6},{"p":"dR","g":"L2/3","c":"B","v":80.8,"j":-0.1},{"p":"dR","g":"L2/3","c":"B","v":89.0,"j":0.2},{"p":"dR","g":"L2/3","c":"B","v":86.6,"j":-0.8},{"p":"dR","g":"L2/3","c":"B","v":82.6,"j":0.9},{"p":"dR","g":"L2/3","c":"B","v":88.5,"j":-0.4},{"p":"dR","g":"L2/3","c":"B","v":84.7,"j":0.5},{"p":"dR","g":"L2/3","c":"B","v":91.6,"j":0.1},{"p":"dR","g":"L2/3","c":"B","v":87.3,"j":-0.6},{"p":"dR","g":"L2/3","c":"B","v":83.1,"j":0.8},{"p":"dR","g":"L2/3","c":"B","v":89.7,"j":-0.2},{"p":"dR","g":"L2/3","c":"B","v":85.5,"j":0.3},{"p":"dR","g":"L2/3","c":"B","v":88.0,"j":-0.9},
{"p":"e","g":"L4C","c":"high sustained","v":77.8,"j":-0.9},{"p":"e","g":"L4C","c":"high sustained","v":76.4,"j":0.3},{"p":"e","g":"L4C","c":"high sustained","v":80.3,"j":-0.2},{"p":"e","g":"L4C","c":"high sustained","v":75.1,"j":0.8},{"p":"e","g":"L4C","c":"high sustained","v":78.6,"j":-0.6},{"p":"e","g":"L4C","c":"high sustained","v":73.9,"j":0.1},{"p":"e","g":"L4C","c":"high sustained","v":82.1,"j":0.5},{"p":"e","g":"L4C","c":"high sustained","v":76.9,"j":-0.4},{"p":"e","g":"L4C","c":"high sustained","v":77.5,"j":0.9},{"p":"e","g":"L4C","c":"high sustained","v":72.0,"j":-0.8},{"p":"e","g":"L4C","c":"high sustained","v":79.7,"j":0.2},{"p":"e","g":"L4C","c":"high sustained","v":76.2,"j":-0.1},{"p":"e","g":"L4C","c":"high sustained","v":75.8,"j":0.6},{"p":"e","g":"L4C","c":"high sustained","v":83.6,"j":-0.5},{"p":"e","g":"L4C","c":"high sustained","v":74.6,"j":0.4},{"p":"e","g":"L4C","c":"high sustained","v":78.9,"j":-0.3},{"p":"e","g":"L4C","c":"high sustained","v":77.2,"j":0.7},{"p":"e","g":"L4C","c":"high sustained","v":68.6,"j":-0.7},{"p":"e","g":"L4C","c":"high sustained","v":81.0,"j":0.0},{"p":"e","g":"L4C","c":"high sustained","v":76.7,"j":0.85},{"p":"e","g":"L4C","c":"high sustained","v":70.9,"j":-0.95},{"p":"e","g":"L4C","c":"high sustained","v":79.2,"j":0.35},{"p":"e","g":"L4C","c":"high sustained","v":77.0,"j":-0.25},{"p":"e","g":"L4C","c":"high sustained","v":69.8,"j":0.65},{"p":"e","g":"L4C","c":"high sustained","v":78.3,"j":-0.55},{"p":"e","g":"L4C","c":"high sustained","v":75.4,"j":0.15},{"p":"e","g":"L4C","c":"high sustained","v":82.8,"j":-0.15},{"p":"e","g":"L4C","c":"high sustained","v":77.9,"j":0.45},{"p":"e","g":"L4C","c":"high sustained","v":73.2,"j":-0.45},{"p":"e","g":"L4C","c":"high sustained","v":80.0,"j":0.75},{"p":"e","g":"L4C","c":"high sustained","v":76.0,"j":-0.75},{"p":"e","g":"L4C","c":"high sustained","v":78.1,"j":0.05},
{"p":"e","g":"L4C","c":"low sustained","v":86.7,"j":0.05},{"p":"e","g":"L4C","c":"low sustained","v":85.5,"j":-0.75},{"p":"e","g":"L4C","c":"low sustained","v":88.8,"j":0.75},{"p":"e","g":"L4C","c":"low sustained","v":84.6,"j":-0.45},{"p":"e","g":"L4C","c":"low sustained","v":87.4,"j":0.45},{"p":"e","g":"L4C","c":"low sustained","v":83.9,"j":-0.15},{"p":"e","g":"L4C","c":"low sustained","v":90.2,"j":0.15},{"p":"e","g":"L4C","c":"low sustained","v":85.2,"j":-0.55},{"p":"e","g":"L4C","c":"low sustained","v":86.9,"j":0.65},{"p":"e","g":"L4C","c":"low sustained","v":82.3,"j":-0.25},{"p":"e","g":"L4C","c":"low sustained","v":88.3,"j":0.35},{"p":"e","g":"L4C","c":"low sustained","v":85.9,"j":-0.95},{"p":"e","g":"L4C","c":"low sustained","v":85.0,"j":0.85},{"p":"e","g":"L4C","c":"low sustained","v":91.4,"j":0.0},{"p":"e","g":"L4C","c":"low sustained","v":84.2,"j":-0.7},{"p":"e","g":"L4C","c":"low sustained","v":87.8,"j":0.7},{"p":"e","g":"L4C","c":"low sustained","v":86.4,"j":-0.3},{"p":"e","g":"L4C","c":"low sustained","v":77.6,"j":0.4},{"p":"e","g":"L4C","c":"low sustained","v":89.5,"j":-0.5},{"p":"e","g":"L4C","c":"low sustained","v":85.7,"j":0.6},{"p":"e","g":"L4C","c":"low sustained","v":80.6,"j":-0.1},{"p":"e","g":"L4C","c":"low sustained","v":88.0,"j":0.2},{"p":"e","g":"L4C","c":"low sustained","v":86.1,"j":-0.8},{"p":"e","g":"L4C","c":"low sustained","v":79.4,"j":0.9},{"p":"e","g":"L4C","c":"low sustained","v":87.2,"j":-0.4},{"p":"e","g":"L4C","c":"low sustained","v":84.9,"j":0.5},{"p":"e","g":"L4C","c":"low sustained","v":90.8,"j":0.1},{"p":"e","g":"L4C","c":"low sustained","v":86.6,"j":-0.6},{"p":"e","g":"L4C","c":"low sustained","v":83.1,"j":0.8},{"p":"e","g":"L4C","c":"low sustained","v":89.0,"j":-0.2},{"p":"e","g":"L4C","c":"low sustained","v":85.3,"j":0.3},{"p":"e","g":"L4C","c":"low sustained","v":87.0,"j":-0.9},
{"p":"e","g":"L2/3","c":"high sustained","v":74.0,"j":-0.9},{"p":"e","g":"L2/3","c":"high sustained","v":72.8,"j":0.3},{"p":"e","g":"L2/3","c":"high sustained","v":76.6,"j":-0.2},{"p":"e","g":"L2/3","c":"high sustained","v":71.5,"j":0.8},{"p":"e","g":"L2/3","c":"high sustained","v":74.9,"j":-0.6},{"p":"e","g":"L2/3","c":"high sustained","v":70.2,"j":0.1},{"p":"e","g":"L2/3","c":"high sustained","v":78.8,"j":0.5},{"p":"e","g":"L2/3","c":"high sustained","v":72.4,"j":-0.4},{"p":"e","g":"L2/3","c":"high sustained","v":73.9,"j":0.9},{"p":"e","g":"L2/3","c":"high sustained","v":68.4,"j":-0.8},{"p":"e","g":"L2/3","c":"high sustained","v":76.0,"j":0.2},{"p":"e","g":"L2/3","c":"high sustained","v":73.1,"j":-0.1},{"p":"e","g":"L2/3","c":"high sustained","v":71.9,"j":0.6},{"p":"e","g":"L2/3","c":"high sustained","v":80.4,"j":-0.5},{"p":"e","g":"L2/3","c":"high sustained","v":70.8,"j":0.4},{"p":"e","g":"L2/3","c":"high sustained","v":75.3,"j":-0.3},{"p":"e","g":"L2/3","c":"high sustained","v":73.6,"j":0.7},{"p":"e","g":"L2/3","c":"high sustained","v":64.7,"j":-0.7},{"p":"e","g":"L2/3","c":"high sustained","v":77.3,"j":0.0},{"p":"e","g":"L2/3","c":"high sustained","v":72.6,"j":0.85},{"p":"e","g":"L2/3","c":"high sustained","v":67.2,"j":-0.95},{"p":"e","g":"L2/3","c":"high sustained","v":75.6,"j":0.35},{"p":"e","g":"L2/3","c":"high sustained","v":73.2,"j":-0.25},{"p":"e","g":"L2/3","c":"high sustained","v":66.9,"j":0.65},{"p":"e","g":"L2/3","c":"high sustained","v":74.5,"j":-0.55},{"p":"e","g":"L2/3","c":"high sustained","v":71.2,"j":0.15},{"p":"e","g":"L2/3","c":"high sustained","v":79.5,"j":-0.15},{"p":"e","g":"L2/3","c":"high sustained","v":74.3,"j":0.45},{"p":"e","g":"L2/3","c":"high sustained","v":69.5,"j":-0.45},{"p":"e","g":"L2/3","c":"high sustained","v":76.9,"j":0.75},{"p":"e","g":"L2/3","c":"high sustained","v":72.1,"j":-0.75},{"p":"e","g":"L2/3","c":"high sustained","v":74.7,"j":0.05},
{"p":"e","g":"L2/3","c":"low sustained","v":74.2,"j":0.05},{"p":"e","g":"L2/3","c":"low sustained","v":72.9,"j":-0.75},{"p":"e","g":"L2/3","c":"low sustained","v":76.3,"j":0.75},{"p":"e","g":"L2/3","c":"low sustained","v":71.8,"j":-0.45},{"p":"e","g":"L2/3","c":"low sustained","v":75.1,"j":0.45},{"p":"e","g":"L2/3","c":"low sustained","v":70.6,"j":-0.15},{"p":"e","g":"L2/3","c":"low sustained","v":78.5,"j":0.15},{"p":"e","g":"L2/3","c":"low sustained","v":72.6,"j":-0.55},{"p":"e","g":"L2/3","c":"low sustained","v":74.0,"j":0.65},{"p":"e","g":"L2/3","c":"low sustained","v":69.0,"j":-0.25},{"p":"e","g":"L2/3","c":"low sustained","v":76.5,"j":0.35},{"p":"e","g":"L2/3","c":"low sustained","v":73.3,"j":-0.95},{"p":"e","g":"L2/3","c":"low sustained","v":72.2,"j":0.85},{"p":"e","g":"L2/3","c":"low sustained","v":80.1,"j":0.0},{"p":"e","g":"L2/3","c":"low sustained","v":71.4,"j":-0.7},{"p":"e","g":"L2/3","c":"low sustained","v":75.6,"j":0.7},{"p":"e","g":"L2/3","c":"low sustained","v":73.8,"j":-0.3},{"p":"e","g":"L2/3","c":"low sustained","v":63.6,"j":0.4},{"p":"e","g":"L2/3","c":"low sustained","v":77.0,"j":-0.5},{"p":"e","g":"L2/3","c":"low sustained","v":72.8,"j":0.6},{"p":"e","g":"L2/3","c":"low sustained","v":67.9,"j":-0.1},{"p":"e","g":"L2/3","c":"low sustained","v":75.9,"j":0.2},{"p":"e","g":"L2/3","c":"low sustained","v":73.5,"j":-0.8},{"p":"e","g":"L2/3","c":"low sustained","v":65.8,"j":0.9},{"p":"e","g":"L2/3","c":"low sustained","v":74.8,"j":-0.4},{"p":"e","g":"L2/3","c":"low sustained","v":71.6,"j":0.5},{"p":"e","g":"L2/3","c":"low sustained","v":79.2,"j":0.1},{"p":"e","g":"L2/3","c":"low sustained","v":74.4,"j":-0.6},{"p":"e","g":"L2/3","c":"low sustained","v":70.0,"j":0.8},{"p":"e","g":"L2/3","c":"low sustained","v":76.8,"j":-0.2},{"p":"e","g":"L2/3","c":"low sustained","v":72.4,"j":0.3},{"p":"e","g":"L2/3","c":"low sustained","v":75.3,"j":-0.9}
],
"brk": [
{"p":"b","k":"b1","o":1,"g":"L4C","c":"surface","y":93.4},{"p":"b","k":"b1","o":2,"g":"L4C","c":"surface","y":94.1},{"p":"b","k":"b1","o":3,"g":"L4C","c":"edge","y":94.1},{"p":"b","k":"b1","o":4,"g":"L4C","c":"edge","y":93.4},
{"p":"b","k":"b2","o":1,"g":"L4C","c":"surface","y":95.0},{"p":"b","k":"b2","o":2,"g":"L4C","c":"surface","y":95.9},{"p":"b","k":"b2","o":3,"g":"L2/3","c":"surface","y":95.9},{"p":"b","k":"b2","o":4,"g":"L2/3","c":"surface","y":95.0},
{"p":"b","k":"b3","o":1,"g":"L4C","c":"edge","y":91.1},{"p":"b","k":"b3","o":2,"g":"L4C","c":"edge","y":91.8},{"p":"b","k":"b3","o":3,"g":"L2/3","c":"edge","y":91.8},{"p":"b","k":"b3","o":4,"g":"L2/3","c":"edge","y":91.1},
{"p":"b","k":"b4","o":1,"g":"L2/3","c":"surface","y":89.5},{"p":"b","k":"b4","o":2,"g":"L2/3","c":"surface","y":90.2},{"p":"b","k":"b4","o":3,"g":"L2/3","c":"edge","y":90.2},{"p":"b","k":"b4","o":4,"g":"L2/3","c":"edge","y":89.5},
{"p":"dL","k":"d1","o":1,"g":"L4C","c":"A","y":99.95},{"p":"dL","k":"d1","o":2,"g":"L4C","c":"A","y":100.85},{"p":"dL","k":"d1","o":3,"g":"L4C","c":"B","y":100.85},{"p":"dL","k":"d1","o":4,"g":"L4C","c":"B","y":99.95},
{"p":"dL","k":"d2","o":1,"g":"L2/3","c":"A","y":95.6},{"p":"dL","k":"d2","o":2,"g":"L2/3","c":"A","y":96.5},{"p":"dL","k":"d2","o":3,"g":"L2/3","c":"B","y":96.5},{"p":"dL","k":"d2","o":4,"g":"L2/3","c":"B","y":95.6},
{"p":"dR","k":"d3","o":1,"g":"L4C","c":"A","y":95.5},{"p":"dR","k":"d3","o":2,"g":"L4C","c":"A","y":96.4},{"p":"dR","k":"d3","o":3,"g":"L4C","c":"B","y":96.4},{"p":"dR","k":"d3","o":4,"g":"L4C","c":"B","y":95.5},
{"p":"e","k":"e1","o":1,"g":"L4C","c":"high sustained","y":92.2},{"p":"e","k":"e1","o":2,"g":"L4C","c":"high sustained","y":93.3},{"p":"e","k":"e1","o":3,"g":"L4C","c":"low sustained","y":93.3},{"p":"e","k":"e1","o":4,"g":"L4C","c":"low sustained","y":92.2}
],
"stars": [
{"p":"b","g":"L4C","y":94.1,"s":"c"},{"p":"b","g":"L2/3","y":90.2,"s":"c"},{"p":"b","g":"L4C","y":95.9,"s":"r"},{"p":"b","g":"L2/3","y":91.8,"s":"l"},
{"p":"dL","g":"L4C","y":100.85,"s":"c"},{"p":"dL","g":"L2/3","y":96.5,"s":"c"},
{"p":"dR","g":"L4C","y":96.4,"s":"c"},
{"p":"e","g":"L4C","y":93.3,"s":"c"}
],
"cd": [
{"L":"L2/3","n":2,"m":2.2,"lo":1.2,"hi":3.1},{"L":"L2/3","n":4,"m":4.7,"lo":3.8,"hi":5.6},{"L":"L2/3","n":8,"m":5.5,"lo":4.8,"hi":6.2},{"L":"L2/3","n":16,"m":7.7,"lo":7.0,"hi":8.4},{"L":"L2/3","n":32,"m":7.5,"lo":7.0,"hi":7.9},{"L":"L2/3","n":64,"m":8.5,"lo":8.3,"hi":8.7},
{"L":"L4C","n":2,"m":-8.6,"lo":-10.0,"hi":-7.2},{"L":"L4C","n":4,"m":-9.1,"lo":-10.3,"hi":-7.9},{"L":"L4C","n":8,"m":-10.9,"lo":-12.2,"hi":-9.6},{"L":"L4C","n":16,"m":-13.5,"lo":-14.5,"hi":-12.6},{"L":"L4C","n":32,"m":-13.6,"lo":-14.1,"hi":-13.1},{"L":"L4C","n":64,"m":-13.2,"lo":-13.4,"hi":-13.0}
],
"fd": [
{"q":"TL","x":0.01,"y":0.0},{"q":"TL","x":0.01,"y":-0.43},{"q":"TL","x":0.09,"y":-0.43},{"q":"TL","x":0.20,"y":-0.02},{"q":"TL","x":0.29,"y":-0.22},{"q":"TL","x":0.32,"y":0.0},{"q":"TL","x":0.34,"y":-0.35},{"q":"TL","x":0.38,"y":-0.45},{"q":"TL","x":0.40,"y":0.01},{"q":"TL","x":0.41,"y":0.21},{"q":"TL","x":0.43,"y":-0.04},{"q":"TL","x":0.45,"y":0.55},{"q":"TL","x":0.46,"y":0.10},{"q":"TL","x":0.47,"y":-0.25},{"q":"TL","x":0.48,"y":0.0},{"q":"TL","x":0.49,"y":0.18},{"q":"TL","x":0.51,"y":-0.52},{"q":"TL","x":0.52,"y":0.04},{"q":"TL","x":0.54,"y":0.14},{"q":"TL","x":0.55,"y":-0.06},{"q":"TL","x":0.57,"y":-0.46},{"q":"TL","x":0.59,"y":0.01},{"q":"TL","x":0.62,"y":0.10},{"q":"TL","x":0.63,"y":-0.35},{"q":"TL","x":0.64,"y":0.52},{"q":"TL","x":0.66,"y":0.34},{"q":"TL","x":0.70,"y":0.20},{"q":"TL","x":0.77,"y":0.20},{"q":"TL","x":0.82,"y":0.15},{"q":"TL","x":0.59,"y":0.22},{"q":"TL","x":0.37,"y":0.10},{"q":"TL","x":0.53,"y":-0.08},
{"q":"TR","x":0.10,"y":0.55},{"q":"TR","x":0.39,"y":0.52},{"q":"TR","x":0.19,"y":0.08},{"q":"TR","x":0.28,"y":0.05},{"q":"TR","x":0.16,"y":-0.04},{"q":"TR","x":0.44,"y":0.29},{"q":"TR","x":0.50,"y":0.24},{"q":"TR","x":0.40,"y":0.19},{"q":"TR","x":0.46,"y":0.14},{"q":"TR","x":0.36,"y":0.10},{"q":"TR","x":0.38,"y":-0.04},{"q":"TR","x":0.43,"y":0.03},{"q":"TR","x":0.49,"y":0.10},{"q":"TR","x":0.33,"y":-0.10},{"q":"TR","x":0.40,"y":-0.17},{"q":"TR","x":0.46,"y":-0.26},{"q":"TR","x":0.40,"y":-0.33},{"q":"TR","x":0.49,"y":-0.28},{"q":"TR","x":0.43,"y":-0.36},{"q":"TR","x":0.50,"y":-0.34},{"q":"TR","x":0.30,"y":-0.42},{"q":"TR","x":0.27,"y":-0.65},{"q":"TR","x":0.70,"y":0.0},{"q":"TR","x":0.40,"y":0.0},{"q":"TR","x":0.27,"y":0.38},
{"q":"BL","x":0.0,"y":-0.46},{"q":"BL","x":0.06,"y":-0.41},{"q":"BL","x":0.09,"y":-0.15},{"q":"BL","x":0.16,"y":-0.13},{"q":"BL","x":0.23,"y":-0.02},{"q":"BL","x":0.26,"y":0.0},{"q":"BL","x":0.34,"y":-0.13},{"q":"BL","x":0.40,"y":0.24},{"q":"BL","x":0.41,"y":0.05},{"q":"BL","x":0.44,"y":0.36},{"q":"BL","x":0.46,"y":0.15},{"q":"BL","x":0.47,"y":-0.01},{"q":"BL","x":0.49,"y":0.24},{"q":"BL","x":0.52,"y":-0.22},{"q":"BL","x":0.53,"y":0.15},{"q":"BL","x":0.55,"y":0.26},{"q":"BL","x":0.57,"y":0.0},{"q":"BL","x":0.58,"y":-0.13},{"q":"BL","x":0.60,"y":0.15},{"q":"BL","x":0.62,"y":0.36},{"q":"BL","x":0.64,"y":-0.37},{"q":"BL","x":0.65,"y":-0.03},{"q":"BL","x":0.67,"y":-0.27},{"q":"BL","x":0.70,"y":0.15},{"q":"BL","x":0.73,"y":-0.05},{"q":"BL","x":0.77,"y":-0.13},{"q":"BL","x":0.81,"y":-0.18},{"q":"BL","x":0.87,"y":0.0},{"q":"BL","x":0.91,"y":-0.13},{"q":"BL","x":0.93,"y":-0.30},{"q":"BL","x":0.95,"y":-0.37},{"q":"BL","x":0.39,"y":-0.58},{"q":"BL","x":0.77,"y":-0.65},{"q":"BL","x":0.48,"y":-0.13},{"q":"BL","x":0.37,"y":0.10},
{"q":"BR","x":0.0,"y":-0.11},{"q":"BR","x":1.0,"y":0.33},{"q":"BR","x":0.16,"y":0.24},{"q":"BR","x":0.23,"y":0.10},{"q":"BR","x":0.29,"y":0.15},{"q":"BR","x":0.32,"y":0.0},{"q":"BR","x":0.35,"y":0.06},{"q":"BR","x":0.38,"y":-0.06},{"q":"BR","x":0.40,"y":0.17},{"q":"BR","x":0.43,"y":0.0},{"q":"BR","x":0.45,"y":0.35},{"q":"BR","x":0.47,"y":0.10},{"q":"BR","x":0.49,"y":-0.08},{"q":"BR","x":0.52,"y":0.20},{"q":"BR","x":0.54,"y":-0.22},{"q":"BR","x":0.56,"y":0.0},{"q":"BR","x":0.57,"y":-0.37},{"q":"BR","x":0.60,"y":-0.15},{"q":"BR","x":0.62,"y":0.10},{"q":"BR","x":0.64,"y":-0.02},{"q":"BR","x":0.67,"y":0.24},{"q":"BR","x":0.34,"y":-0.15},{"q":"BR","x":0.28,"y":-0.24},{"q":"BR","x":0.26,"y":-0.06},{"q":"BR","x":0.42,"y":-0.33},{"q":"BR","x":0.47,"y":-0.52},{"q":"BR","x":0.43,"y":-0.63},{"q":"BR","x":0.52,"y":-0.42},{"q":"BR","x":0.59,"y":-0.56},{"q":"BR","x":0.34,"y":0.27},{"q":"BR","x":0.22,"y":0.04},{"q":"BR","x":0.15,"y":-0.09}
]
},
"concat": [
{
 "width": 160, "height": 152,
 "layer": [
  {"data": {"name": "tr"}, "transform": [{"filter": "datum.p == 'L4C'"}],
   "mark": {"type": "line", "strokeWidth": 1.2},
   "encoding": {
    "x": {"field": "t", "type": "quantitative", "scale": {"domain": [-25, 260], "range": [0, 151], "nice": false, "zero": false}, "axis": {"values": [0, 100, 200], "title": "time(ms)"}},
    "y": {"field": "v", "type": "quantitative", "scale": {"domain": [20, 100], "nice": false, "zero": false}, "axis": {"values": [33, 66, 100], "title": "accuracy", "titlePadding": 0}},
    "color": {"field": "c", "type": "nominal", "scale": {"domain": ["surface", "edge"], "range": ["#ec2a2f", "#2c4ca8"]}, "legend": null}
   }},
  {"data": {"values": [{}]}, "mark": {"type": "rule", "color": "#262626", "strokeWidth": 1}, "encoding": {"x": {"datum": -25}, "x2": {"datum": 260}, "y": {"datum": 33}}},
  {"data": {"values": [{"t": 77}, {"t": 260}]}, "mark": {"type": "rule", "color": "#262626", "strokeWidth": 1.2, "strokeDash": [6, 4]}, "encoding": {"x": {"field": "t", "type": "quantitative"}, "y": {"datum": 20}, "y2": {"datum": 100}}},
  {"data": {"values": [{}]}, "mark": {"type": "text", "align": "left", "baseline": "alphabetic", "fontSize": 15}, "encoding": {"x": {"datum": 0}, "y": {"datum": 84.2}, "text": {"value": "L4C"}}}
 ]
},
{"width": 18, "height": 152, "data": {"values": []}, "mark": "point", "title": {"text": "a", "dx": -196, "offset": 13.5}},
{
 "width": 192, "height": 152,
 "layer": [
  {"data": {"name": "tr"}, "transform": [{"filter": "datum.p == 'L2/3'"}],
   "mark": {"type": "line", "strokeWidth": 1.2},
   "encoding": {
    "x": {"field": "t", "type": "quantitative", "scale": {"domain": [-25, 260], "range": [0, 151], "nice": false, "zero": false}, "axis": {"values": [0, 100, 200], "title": "time(ms)"}},
    "y": {"field": "v", "type": "quantitative", "scale": {"domain": [20, 100], "nice": false, "zero": false}, "axis": {"values": [33, 66, 100], "title": null}},
    "color": {"field": "c", "type": "nominal", "scale": {"domain": ["surface", "edge"], "range": ["#ec2a2f", "#2c4ca8"]}, "legend": {"orient": "none", "legendX": 80, "legendY": 95.5, "title": null, "symbolType": "M-3.2,0L3.2,0", "symbolSize": 100, "symbolStrokeWidth": 1.2, "labelFontSize": 10, "labelOffset": 13.3, "rowPadding": -1}}
   }},
  {"data": {"values": [{}]}, "mark": {"type": "rule", "color": "#262626", "strokeWidth": 1}, "encoding": {"x": {"datum": -25}, "x2": {"datum": 260}, "y": {"datum": 33}}},
  {"data": {"values": [{"t": 77}, {"t": 260}]}, "mark": {"type": "rule", "color": "#262626", "strokeWidth": 1.2, "strokeDash": [6, 4]}, "encoding": {"x": {"field": "t", "type": "quantitative"}, "y": {"datum": 20}, "y2": {"datum": 100}}},
  {"data": {"values": [{}]}, "mark": {"type": "text", "align": "left", "baseline": "alphabetic", "fontSize": 15}, "encoding": {"x": {"datum": 3}, "y": {"datum": 84.2}, "text": {"value": "L2/3"}}}
 ]
},
{"width": 27, "height": 152, "data": {"values": []}, "mark": "point", "title": {"text": "b", "dx": -12, "offset": 13.5}},
{
 "width": 187, "height": 152,
 "layer": [
  {"data": {"name": "bars"}, "transform": [{"filter": "datum.p == 'b'"}],
   "mark": {"type": "bar", "fill": "white", "strokeWidth": 2},
   "encoding": {
    "x": {"field": "g", "type": "nominal", "scale": {"domain": ["L4C", "L2/3"], "range": [0, 147], "paddingInner": 0.395, "paddingOuter": 0.164, "align": 0.4}, "axis": {"title": null, "labelAngle": 0, "labelPadding": 6}},
    "xOffset": {"field": "c", "type": "nominal", "scale": {"domain": ["surface", "edge"], "paddingInner": 0.23, "paddingOuter": 0}},
    "y": {"field": "m", "type": "quantitative", "scale": {"domain": [60, 100], "nice": false, "zero": false}, "axis": {"values": [60, 70, 80, 90, 100], "tickCount": 20, "title": "accuracy", "labelPadding": 7}},
    "y2": {"datum": 60},
    "stroke": {"field": "c", "type": "nominal", "scale": {"domain": ["surface", "edge"], "range": ["#ee3338", "#2f55b3"]}, "legend": {"orient": "none", "legendX": 11.5, "legendY": -24, "title": null, "symbolType": "M-1.7,-1L1.7,-1L1.7,1L-1.7,1Z", "symbolSize": 100, "symbolStrokeWidth": 2, "symbolFillColor": "white", "labelFontSize": 11, "labelOffset": 16.5, "rowPadding": -3}}
   }},
  {"data": {"name": "dots"}, "transform": [{"filter": "datum.p == 'b' && datum.c == 'surface'"}],
   "mark": {"type": "circle", "size": 9, "color": "#7d7d7d", "opacity": 1},
   "encoding": {"x": {"field": "g", "type": "nominal"}, "xOffset": {"field": "j", "type": "quantitative", "scale": {"domain": [-1, 1], "range": [-1.5, 21.5]}}, "y": {"field": "v", "type": "quantitative"}}},
  {"data": {"name": "dots"}, "transform": [{"filter": "datum.p == 'b' && datum.c == 'edge'"}],
   "mark": {"type": "circle", "size": 9, "color": "#7d7d7d", "opacity": 1},
   "encoding": {"x": {"field": "g", "type": "nominal"}, "xOffset": {"field": "j", "type": "quantitative", "scale": {"domain": [-1, 1], "range": [24.5, 47.5]}}, "y": {"field": "v", "type": "quantitative"}}},
  {"data": {"name": "bars"}, "transform": [{"filter": "datum.p == 'b'"}],
   "mark": {"type": "rule", "color": "black", "strokeWidth": 1.2},
   "encoding": {"x": {"field": "g", "type": "nominal"}, "xOffset": {"field": "c", "type": "nominal", "scale": {"domain": ["surface", "edge"], "paddingInner": 0.23, "paddingOuter": 0}}, "y": {"field": "lo", "type": "quantitative"}, "y2": {"field": "hi"}}},
  {"data": {"name": "bars"}, "transform": [{"filter": "datum.p == 'b'"}, {"fold": ["lo", "hi"], "as": ["k", "ev"]}],
   "mark": {"type": "tick", "color": "black", "size": 6, "thickness": 1.2},
   "encoding": {"x": {"field": "g", "type": "nominal"}, "xOffset": {"field": "c", "type": "nominal", "scale": {"domain": ["surface", "edge"], "paddingInner": 0.23, "paddingOuter": 0}}, "y": {"field": "ev", "type": "quantitative"}}},
  {"data": {"name": "brk"}, "transform": [{"filter": "datum.p == 'b'"}],
   "mark": {"type": "line", "color": "#555555", "strokeWidth": 0.9},
   "encoding": {"x": {"field": "g", "type": "nominal"}, "xOffset": {"field": "c", "type": "nominal", "scale": {"domain": ["surface", "edge"], "paddingInner": 0.23, "paddingOuter": 0}}, "y": {"field": "y", "type": "quantitative"}, "detail": {"field": "k"}, "order": {"field": "o"}}},
  {"data": {"name": "stars"}, "transform": [{"filter": "datum.p == 'b' && datum.s == 'c'"}],
   "mark": {"type": "text", "text": "***", "fontSize": 8, "baseline": "alphabetic", "color": "#555555", "dy": 1},
   "encoding": {"x": {"field": "g", "type": "nominal"}, "y": {"field": "y", "type": "quantitative"}}},
  {"data": {"name": "stars"}, "transform": [{"filter": "datum.p == 'b' && datum.s == 'r'"}],
   "mark": {"type": "text", "text": "***", "fontSize": 8, "baseline": "alphabetic", "color": "#555555", "dy": 1, "dx": 25},
   "encoding": {"x": {"field": "g", "type": "nominal"}, "y": {"field": "y", "type": "quantitative"}}},
  {"data": {"name": "stars"}, "transform": [{"filter": "datum.p == 'b' && datum.s == 'l'"}],
   "mark": {"type": "text", "text": "***", "fontSize": 8, "baseline": "alphabetic", "color": "#555555", "dy": 1, "dx": -25},
   "encoding": {"x": {"field": "g", "type": "nominal"}, "y": {"field": "y", "type": "quantitative"}}},
  {"data": {"values": [{}]}, "mark": {"type": "text", "text": "0", "fontSize": 11, "baseline": "middle", "color": "#262626", "dx": -39, "dy": 10.5},
   "encoding": {"x": {"datum": "L4C"}, "y": {"datum": 60}}}
 ],
 "resolve": {"scale": {"xOffset": "independent"}}
},
{"width": 15, "height": 152, "data": {"values": []}, "mark": "point", "title": {"text": "c", "dx": -29, "offset": 13.5}},
{
 "width": 81, "height": 152,
 "layer": [
  {"data": {"values": [{}]}, "mark": {"type": "rule", "color": "#262626", "strokeWidth": 1, "strokeDash": [8, 6]}, "encoding": {"x": {"datum": 2}, "x2": {"datum": 64}, "y": {"datum": 0}}},
  {"data": {"name": "cd"},
   "mark": {"type": "line", "color": "black", "strokeWidth": 1.6},
   "encoding": {
    "x": {"field": "n", "type": "quantitative", "scale": {"type": "log", "base": 2, "domain": [2, 64], "range": [0, 156], "nice": false}, "axis": {"values": [2, 4, 8, 16, 32, 64], "tickCount": 20, "labelExpr": "datum.value", "title": "number of sites"}},
    "y": {"field": "m", "type": "quantitative", "scale": {"domain": [-15, 10], "nice": false, "zero": false}, "axis": {"values": [-15, -10, -5, 0, 5, 10], "tickCount": 20, "labelExpr": "datum.value", "title": "accuracy difference (E-S)"}},
    "strokeDash": {"field": "L", "type": "nominal", "scale": {"domain": ["L4C", "L2/3"], "range": [[4, 3], [1, 0]]}, "legend": {"orient": "none", "legendX": 99.7, "legendY": 86.5, "title": null, "symbolType": "M-3,0L3,0", "symbolSize": 100, "symbolStrokeWidth": 1.6, "symbolStrokeColor": "black", "labelFontSize": 11, "labelOffset": 13.3, "rowPadding": 2}}
   }},
  {"data": {"name": "cd"}, "mark": {"type": "rule", "color": "black", "strokeWidth": 1.1}, "encoding": {"x": {"field": "n", "type": "quantitative"}, "y": {"field": "lo", "type": "quantitative"}, "y2": {"field": "hi"}}},
  {"data": {"name": "cd"}, "transform": [{"fold": ["lo", "hi"], "as": ["k", "ev"]}], "mark": {"type": "tick", "orient": "horizontal", "color": "black", "size": 8, "thickness": 1.1}, "encoding": {"x": {"field": "n", "type": "quantitative"}, "y": {"field": "ev", "type": "quantitative"}}}
 ]
},
{"width": 75, "height": 152, "data": {"values": []}, "mark": "point"},

{
 "width": 160, "height": 97.6,
 "layer": [
  {"data": {"name": "bars"}, "transform": [{"filter": "datum.p == 'dL'"}],
   "mark": {"type": "bar", "strokeWidth": 2},
   "encoding": {
    "x": {"field": "g", "type": "nominal", "scale": {"domain": ["L4C", "L2/3"], "range": [0, 107], "paddingInner": 0.389, "paddingOuter": 0.071, "align": 0.8}, "axis": {"title": null, "labelAngle": 0, "offset": 97.6}},
    "xOffset": {"field": "c", "type": "nominal", "scale": {"domain": ["A", "B"], "paddingInner": 0.17, "paddingOuter": 0}},
    "y": {"field": "m", "type": "quantitative", "scale": {"domain": [60, 100], "range": [195.2, 44.4], "nice": false, "zero": false}, "axis": {"values": [60, 70, 80, 90, 100], "tickCount": 20, "title": "accuracy"}},
    "y2": {"datum": 60},
    "fill": {"field": "c", "type": "nominal", "scale": {"domain": ["A", "B"], "range": ["#d3d3d3", "#6f6f6f"]}, "legend": null},
    "stroke": {"field": "c", "type": "nominal", "scale": {"domain": ["A", "B"], "range": ["#bdbdbd", "#111111"]}, "legend": null}
   }},
  {"data": {"name": "dots"}, "transform": [{"filter": "datum.p == 'dL' && datum.c == 'A'"}],
   "mark": {"type": "circle", "size": 9, "color": "#7d7d7d", "opacity": 1},
   "encoding": {"x": {"field": "g", "type": "nominal"}, "xOffset": {"field": "j", "type": "quantitative", "scale": {"domain": [-1, 1], "range": [-1.5, 18.4]}}, "y": {"field": "v", "type": "quantitative"}}},
  {"data": {"name": "dots"}, "transform": [{"filter": "datum.p == 'dL' && datum.c == 'B'"}],
   "mark": {"type": "circle", "size": 9, "color": "#7d7d7d", "opacity": 1},
   "encoding": {"x": {"field": "g", "type": "nominal"}, "xOffset": {"field": "j", "type": "quantitative", "scale": {"domain": [-1, 1], "range": [18.9, 38.8]}}, "y": {"field": "v", "type": "quantitative"}}},
  {"data": {"name": "bars"}, "transform": [{"filter": "datum.p == 'dL'"}],
   "mark": {"type": "rule", "color": "black", "strokeWidth": 1.2},
   "encoding": {"x": {"field": "g", "type": "nominal"}, "xOffset": {"field": "c", "type": "nominal", "scale": {"domain": ["A", "B"], "paddingInner": 0.17, "paddingOuter": 0}}, "y": {"field": "lo", "type": "quantitative"}, "y2": {"field": "hi"}}},
  {"data": {"name": "bars"}, "transform": [{"filter": "datum.p == 'dL'"}, {"fold": ["lo", "hi"], "as": ["k", "ev"]}],
   "mark": {"type": "tick", "color": "black", "size": 6, "thickness": 1.2},
   "encoding": {"x": {"field": "g", "type": "nominal"}, "xOffset": {"field": "c", "type": "nominal", "scale": {"domain": ["A", "B"], "paddingInner": 0.17, "paddingOuter": 0}}, "y": {"field": "ev", "type": "quantitative"}}},
  {"data": {"name": "brk"}, "transform": [{"filter": "datum.p == 'dL'"}],
   "mark": {"type": "line", "color": "#444444", "strokeWidth": 0.9},
   "encoding": {"x": {"field": "g", "type": "nominal"}, "xOffset": {"field": "c", "type": "nominal", "scale": {"domain": ["A", "B"], "paddingInner": 0.17, "paddingOuter": 0}}, "y": {"field": "y", "type": "quantitative"}, "detail": {"field": "k"}, "order": {"field": "o"}}},
  {"data": {"name": "stars"}, "transform": [{"filter": "datum.p == 'dL'"}],
   "mark": {"type": "text", "text": "***", "fontSize": 8, "baseline": "alphabetic", "color": "#444444", "dy": 1},
   "encoding": {"x": {"field": "g", "type": "nominal"}, "y": {"field": "y", "type": "quantitative"}}}
 ],
 "resolve": {"scale": {"xOffset": "independent"}}
},
{
 "width": 18, "height": 97.6,
 "layer": [
  {"data": {"name": "bars"}, "transform": [{"filter": "datum.p == 'dR'"}],
   "mark": {"type": "bar", "strokeWidth": 2},
   "encoding": {
    "x": {"field": "g", "type": "nominal", "scale": {"domain": ["L4C", "L2/3"], "range": [0, 109], "paddingInner": 0.395, "paddingOuter": 0.0955, "align": 0.97}, "axis": {"title": null, "labelAngle": 0, "offset": 97.6}},
    "xOffset": {"field": "c", "type": "nominal", "scale": {"domain": ["A", "B"], "paddingInner": 0.165, "paddingOuter": 0}},
    "y": {"field": "m", "type": "quantitative", "scale": {"domain": [60, 100], "range": [195.2, 44.4], "nice": false, "zero": false}, "axis": {"values": [60, 70, 80, 90, 100], "tickCount": 20, "title": null}},
    "y2": {"datum": 60},
    "fill": {"field": "c", "type": "nominal", "scale": {"domain": ["A", "B"], "range": ["#ffffff", "#ffffff"]}, "legend": null},
    "stroke": {"field": "c", "type": "nominal", "scale": {"domain": ["A", "B"], "range": ["#bdbdbd", "#111111"]}, "legend": null}
   }},
  {"data": {"name": "dots"}, "transform": [{"filter": "datum.p == 'dR' && datum.c == 'A'"}],
   "mark": {"type": "circle", "size": 9, "color": "#7d7d7d", "opacity": 1},
   "encoding": {"x": {"field": "g", "type": "nominal"}, "xOffset": {"field": "j", "type": "quantitative", "scale": {"domain": [-1, 1], "range": [-1.5, 18.2]}}, "y": {"field": "v", "type": "quantitative"}}},
  {"data": {"name": "dots"}, "transform": [{"filter": "datum.p == 'dR' && datum.c == 'B'"}],
   "mark": {"type": "circle", "size": 9, "color": "#7d7d7d", "opacity": 1},
   "encoding": {"x": {"field": "g", "type": "nominal"}, "xOffset": {"field": "j", "type": "quantitative", "scale": {"domain": [-1, 1], "range": [18.5, 38.2]}}, "y": {"field": "v", "type": "quantitative"}}},
  {"data": {"name": "bars"}, "transform": [{"filter": "datum.p == 'dR'"}],
   "mark": {"type": "rule", "color": "black", "strokeWidth": 1.2},
   "encoding": {"x": {"field": "g", "type": "nominal"}, "xOffset": {"field": "c", "type": "nominal", "scale": {"domain": ["A", "B"], "paddingInner": 0.165, "paddingOuter": 0}}, "y": {"field": "lo", "type": "quantitative"}, "y2": {"field": "hi"}}},
  {"data": {"name": "bars"}, "transform": [{"filter": "datum.p == 'dR'"}, {"fold": ["lo", "hi"], "as": ["k", "ev"]}],
   "mark": {"type": "tick", "color": "black", "size": 6, "thickness": 1.2},
   "encoding": {"x": {"field": "g", "type": "nominal"}, "xOffset": {"field": "c", "type": "nominal", "scale": {"domain": ["A", "B"], "paddingInner": 0.165, "paddingOuter": 0}}, "y": {"field": "ev", "type": "quantitative"}}},
  {"data": {"name": "brk"}, "transform": [{"filter": "datum.p == 'dR'"}],
   "mark": {"type": "line", "color": "#444444", "strokeWidth": 0.9},
   "encoding": {"x": {"field": "g", "type": "nominal"}, "xOffset": {"field": "c", "type": "nominal", "scale": {"domain": ["A", "B"], "paddingInner": 0.165, "paddingOuter": 0}}, "y": {"field": "y", "type": "quantitative"}, "detail": {"field": "k"}, "order": {"field": "o"}}},
  {"data": {"name": "stars"}, "transform": [{"filter": "datum.p == 'dR'"}],
   "mark": {"type": "text", "text": "***", "fontSize": 8, "baseline": "alphabetic", "color": "#444444", "dy": 1},
   "encoding": {"x": {"field": "g", "type": "nominal"}, "y": {"field": "y", "type": "quantitative"}}}
 ],
 "resolve": {"scale": {"xOffset": "independent"}}
},
{"width": 192, "height": 97.6, "data": {"values": []}, "mark": "point", "title": {"text": "e", "dx": 152, "offset": -23.6}},
{
 "width": 27, "height": 97.6,
 "layer": [
  {"data": {"name": "bars"}, "transform": [{"filter": "datum.p == 'e'"}],
   "mark": {"type": "bar", "strokeWidth": 2, "stroke": "#ee3338"},
   "encoding": {
    "x": {"field": "g", "type": "nominal", "scale": {"domain": ["L4C", "L2/3"], "range": [0, 120], "paddingInner": 0.39, "paddingOuter": 0.184, "align": 0.49}, "axis": {"title": null, "labelAngle": 0, "offset": 97.6}},
    "xOffset": {"field": "c", "type": "nominal", "scale": {"domain": ["high sustained", "low sustained"], "paddingInner": 0.13, "paddingOuter": 0}},
    "y": {"field": "m", "type": "quantitative", "scale": {"domain": [60, 100], "range": [195.2, 44.4], "nice": false, "zero": false}, "axis": {"values": [60, 70, 80, 90, 100], "tickCount": 20, "title": "accuracy"}},
    "y2": {"datum": 60},
    "fill": {"field": "c", "type": "nominal", "scale": {"domain": ["high sustained", "low sustained"], "range": ["#f19191", "#ffffff"]}, "legend": {"orient": "none", "legendX": 14.5, "legendY": 36.4, "title": null, "symbolType": "M-1.7,-1L1.7,-1L1.7,1L-1.7,1Z", "symbolSize": 100, "symbolStrokeColor": "#ee3338", "symbolStrokeWidth": 2, "labelFontSize": 11, "labelOffset": 23.5, "rowPadding": -1.6}}
   }},
  {"data": {"name": "dots"}, "transform": [{"filter": "datum.p == 'e' && datum.c == 'high sustained'"}],
   "mark": {"type": "circle", "size": 9, "color": "#7d7d7d", "opacity": 1},
   "encoding": {"x": {"field": "g", "type": "nominal"}, "xOffset": {"field": "j", "type": "quantitative", "scale": {"domain": [-1, 1], "range": [-1.5, 18.7]}}, "y": {"field": "v", "type": "quantitative"}}},
  {"data": {"name": "dots"}, "transform": [{"filter": "datum.p == 'e' && datum.c == 'low sustained'"}],
   "mark": {"type": "circle", "size": 9, "color": "#7d7d7d", "opacity": 1},
   "encoding": {"x": {"field": "g", "type": "nominal"}, "xOffset": {"field": "j", "type": "quantitative", "scale": {"domain": [-1, 1], "range": [18.3, 38.5]}}, "y": {"field": "v", "type": "quantitative"}}},
  {"data": {"name": "bars"}, "transform": [{"filter": "datum.p == 'e'"}],
   "mark": {"type": "rule", "color": "black", "strokeWidth": 1.2},
   "encoding": {"x": {"field": "g", "type": "nominal"}, "xOffset": {"field": "c", "type": "nominal", "scale": {"domain": ["high sustained", "low sustained"], "paddingInner": 0.13, "paddingOuter": 0}}, "y": {"field": "lo", "type": "quantitative"}, "y2": {"field": "hi"}}},
  {"data": {"name": "bars"}, "transform": [{"filter": "datum.p == 'e'"}, {"fold": ["lo", "hi"], "as": ["k", "ev"]}],
   "mark": {"type": "tick", "color": "black", "size": 6, "thickness": 1.2},
   "encoding": {"x": {"field": "g", "type": "nominal"}, "xOffset": {"field": "c", "type": "nominal", "scale": {"domain": ["high sustained", "low sustained"], "paddingInner": 0.13, "paddingOuter": 0}}, "y": {"field": "ev", "type": "quantitative"}}},
  {"data": {"name": "brk"}, "transform": [{"filter": "datum.p == 'e'"}],
   "mark": {"type": "line", "color": "#444444", "strokeWidth": 0.9},
   "encoding": {"x": {"field": "g", "type": "nominal"}, "xOffset": {"field": "c", "type": "nominal", "scale": {"domain": ["high sustained", "low sustained"], "paddingInner": 0.13, "paddingOuter": 0}}, "y": {"field": "y", "type": "quantitative"}, "detail": {"field": "k"}, "order": {"field": "o"}}},
  {"data": {"name": "stars"}, "transform": [{"filter": "datum.p == 'e'"}],
   "mark": {"type": "text", "text": "***", "fontSize": 8, "baseline": "alphabetic", "color": "#444444", "dy": 1},
   "encoding": {"x": {"field": "g", "type": "nominal"}, "y": {"field": "y", "type": "quantitative"}}}
 ],
 "resolve": {"scale": {"xOffset": "independent"}}
},
{"width": 187, "height": 97.6, "data": {"values": []}, "mark": "point", "title": {"text": "f", "dx": 147, "offset": -26.9}},
{
 "width": 15, "height": 97.6,
 "layer": [
  {"data": {"name": "fd"}, "transform": [{"filter": "datum.q == 'TL'"}],
   "mark": {"type": "circle", "size": 13, "color": "#a9a9a9", "opacity": 1},
   "encoding": {
    "x": {"field": "x", "type": "quantitative", "scale": {"domain": [0, 1], "range": [0, 71], "nice": false}, "axis": {"values": [0, 0.5, 1], "tickCount": 20, "labelExpr": "datum.value", "title": null, "labelPadding": 4}},
    "y": {"field": "y", "type": "quantitative", "scale": {"domain": [-1, 1], "range": [97.6, 27.6], "nice": false}, "axis": {"values": [-1, 0, 1], "tickCount": 20, "labelExpr": "datum.value", "title": "weight", "titleFontSize": 13, "labelPadding": 6, "titlePadding": 4}}
   }},
  {"data": {"values": [{}]}, "mark": {"type": "text", "align": "left", "baseline": "alphabetic", "fontSize": 14}, "encoding": {"x": {"datum": 0.05}, "y": {"datum": 0.82}, "text": {"value": "L4C"}}},
  {"data": {"values": [{}]}, "mark": {"type": "text", "align": "left", "baseline": "alphabetic", "fontSize": 11}, "encoding": {"x": {"datum": 0.03}, "y": {"datum": -0.95}, "text": {"value": "r=0.42 p=0.01"}}}
 ]
},
{"width": 81, "height": 97.6, "data": {"values": []}, "mark": "point"},
{
 "width": 75, "height": 97.6,
 "layer": [
  {"data": {"name": "fd"}, "transform": [{"filter": "datum.q == 'TR'"}],
   "mark": {"type": "circle", "size": 13, "color": "#000000", "opacity": 1},
   "encoding": {
    "x": {"field": "x", "type": "quantitative", "scale": {"domain": [0, 1], "range": [0, 70], "nice": false}, "axis": {"values": [0, 0.5, 1], "tickCount": 20, "labelExpr": "datum.value", "title": null, "labelPadding": 4}},
    "y": {"field": "y", "type": "quantitative", "scale": {"domain": [-1, 1], "range": [97.6, 27.6], "nice": false}, "axis": {"values": [-1, 0, 1], "tickCount": 20, "labelExpr": "datum.value", "title": null, "labelPadding": 6}}
   }},
  {"data": {"values": [{}]}, "mark": {"type": "text", "align": "left", "baseline": "alphabetic", "fontSize": 11}, "encoding": {"x": {"datum": 0.03}, "y": {"datum": -0.95}, "text": {"value": "r=-0.24 p=0.16"}}}
 ]
},

{"width": 160, "height": 70, "data": {"values": []}, "mark": "point", "title": {"text": "d", "dx": -38, "offset": 97.3}},
{"width": 18, "height": 70, "data": {"values": []}, "mark": "point", "title": {"text": "surface response", "fontSize": 14, "dx": -150, "offset": 89.3}},
{"width": 192, "height": 70, "data": {"values": []}, "mark": "point", "title": {"text": "edge response", "fontSize": 14, "dx": -28, "offset": 89.3}},
{"width": 27, "height": 70, "data": {"values": []}, "mark": "point"},
{"width": 187, "height": 70, "data": {"values": []}, "mark": "point"},
{
 "width": 15, "height": 70,
 "layer": [
  {"data": {"name": "fd"}, "transform": [{"filter": "datum.q == 'BL'"}],
   "mark": {"type": "circle", "size": 13, "color": "#a9a9a9", "opacity": 1},
   "encoding": {
    "x": {"field": "x", "type": "quantitative", "scale": {"domain": [0, 1], "range": [0, 71], "nice": false}, "axis": {"values": [0, 0.5, 1], "tickCount": 20, "labelExpr": "datum.value", "title": "sustain index", "titleFontSize": 13, "labelPadding": 4, "titlePadding": 4}},
    "y": {"field": "y", "type": "quantitative", "scale": {"domain": [-1, 1], "nice": false}, "axis": {"values": [-1, 0, 1], "tickCount": 20, "labelExpr": "datum.value", "title": "weight", "titleFontSize": 13, "labelPadding": 6, "titlePadding": 4}}
   }},
  {"data": {"values": [{}]}, "mark": {"type": "text", "align": "left", "baseline": "alphabetic", "fontSize": 13}, "encoding": {"x": {"datum": 0.06}, "y": {"datum": 1.05}, "text": {"value": "L2/3"}}},
  {"data": {"values": [{}]}, "mark": {"type": "text", "align": "left", "baseline": "alphabetic", "fontSize": 11}, "encoding": {"x": {"datum": 0.03}, "y": {"datum": -0.95}, "text": {"value": "r=0.03 p=0.86"}}}
 ]
},
{"width": 81, "height": 70, "data": {"values": []}, "mark": "point"},
{
 "width": 75, "height": 70,
 "layer": [
  {"data": {"name": "fd"}, "transform": [{"filter": "datum.q == 'BR'"}],
   "mark": {"type": "circle", "size": 13, "color": "#000000", "opacity": 1},
   "encoding": {
    "x": {"field": "x", "type": "quantitative", "scale": {"domain": [0, 1], "range": [0, 70], "nice": false}, "axis": {"values": [0, 0.5, 1], "tickCount": 20, "labelExpr": "datum.value", "title": "sustain index", "titleFontSize": 13, "labelPadding": 4, "titlePadding": 4}},
    "y": {"field": "y", "type": "quantitative", "scale": {"domain": [-1, 1], "nice": false}, "axis": {"values": [-1, 0, 1], "tickCount": 20, "labelExpr": "datum.value", "title": null, "labelPadding": 6}}
   }},
  {"data": {"values": [{}]}, "mark": {"type": "text", "align": "left", "baseline": "alphabetic", "fontSize": 11}, "encoding": {"x": {"datum": 0.03}, "y": {"datum": -0.95}, "text": {"value": "r=0.02 p=0.91"}}}
 ]
}
]
}
